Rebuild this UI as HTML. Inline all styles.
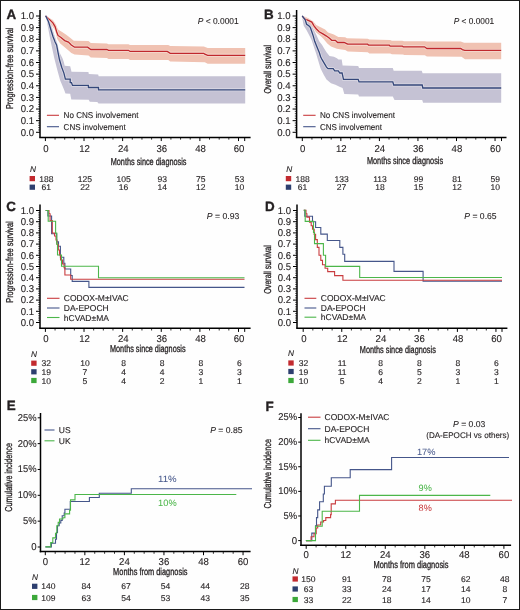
<!DOCTYPE html><html><head><meta charset="utf-8"><style>html,body{margin:0;padding:0;background:#fff;overflow:hidden;width:520px;height:610px}svg{display:block;will-change:transform;text-rendering:geometricPrecision}text{font-family:"Liberation Sans",sans-serif}</style></head><body>
<svg width="520" height="610" viewBox="0 0 520 610">
<rect x="0" y="0" width="520" height="610" fill="#fefefe"/>
<text transform="translate(6.40,19.00) scale(0.5000,0.5)" font-size="26.80" text-anchor="start" fill="#231f20" font-weight="bold" stroke="#231f20" stroke-width="0.70">A</text>
<line x1="40" y1="10" x2="40" y2="137.6" stroke="#000" stroke-width="1.5"/>
<line x1="36" y1="132.3" x2="40" y2="132.3" stroke="#000" stroke-width="1"/>
<text transform="translate(34.00,135.50) scale(0.4850,0.5)" font-size="19.80" text-anchor="end" fill="#231f20" stroke="#231f20" stroke-width="0.24" >0.0</text>
<line x1="36" y1="120.67" x2="40" y2="120.67" stroke="#000" stroke-width="1"/>
<text transform="translate(34.00,123.87) scale(0.4850,0.5)" font-size="19.80" text-anchor="end" fill="#231f20" stroke="#231f20" stroke-width="0.24" >0.1</text>
<line x1="36" y1="109.04" x2="40" y2="109.04" stroke="#000" stroke-width="1"/>
<text transform="translate(34.00,112.24) scale(0.4850,0.5)" font-size="19.80" text-anchor="end" fill="#231f20" stroke="#231f20" stroke-width="0.24" >0.2</text>
<line x1="36" y1="97.41" x2="40" y2="97.41" stroke="#000" stroke-width="1"/>
<text transform="translate(34.00,100.61) scale(0.4850,0.5)" font-size="19.80" text-anchor="end" fill="#231f20" stroke="#231f20" stroke-width="0.24" >0.3</text>
<line x1="36" y1="85.78" x2="40" y2="85.78" stroke="#000" stroke-width="1"/>
<text transform="translate(34.00,88.98) scale(0.4850,0.5)" font-size="19.80" text-anchor="end" fill="#231f20" stroke="#231f20" stroke-width="0.24" >0.4</text>
<line x1="36" y1="74.15" x2="40" y2="74.15" stroke="#000" stroke-width="1"/>
<text transform="translate(34.00,77.35) scale(0.4850,0.5)" font-size="19.80" text-anchor="end" fill="#231f20" stroke="#231f20" stroke-width="0.24" >0.5</text>
<line x1="36" y1="62.52" x2="40" y2="62.52" stroke="#000" stroke-width="1"/>
<text transform="translate(34.00,65.72) scale(0.4850,0.5)" font-size="19.80" text-anchor="end" fill="#231f20" stroke="#231f20" stroke-width="0.24" >0.6</text>
<line x1="36" y1="50.89" x2="40" y2="50.89" stroke="#000" stroke-width="1"/>
<text transform="translate(34.00,54.09) scale(0.4850,0.5)" font-size="19.80" text-anchor="end" fill="#231f20" stroke="#231f20" stroke-width="0.24" >0.7</text>
<line x1="36" y1="39.26" x2="40" y2="39.26" stroke="#000" stroke-width="1"/>
<text transform="translate(34.00,42.46) scale(0.4850,0.5)" font-size="19.80" text-anchor="end" fill="#231f20" stroke="#231f20" stroke-width="0.24" >0.8</text>
<line x1="36" y1="27.63" x2="40" y2="27.63" stroke="#000" stroke-width="1"/>
<text transform="translate(34.00,30.83) scale(0.4850,0.5)" font-size="19.80" text-anchor="end" fill="#231f20" stroke="#231f20" stroke-width="0.24" >0.9</text>
<line x1="36" y1="16.0" x2="40" y2="16.0" stroke="#000" stroke-width="1"/>
<text transform="translate(34.00,19.20) scale(0.4850,0.5)" font-size="19.80" text-anchor="end" fill="#231f20" stroke="#231f20" stroke-width="0.24" >1.0</text>
<line x1="38.2" y1="129.97" x2="40" y2="129.97" stroke="#000" stroke-width="0.7"/>
<line x1="38.2" y1="127.65" x2="40" y2="127.65" stroke="#000" stroke-width="0.7"/>
<line x1="38.2" y1="125.32" x2="40" y2="125.32" stroke="#000" stroke-width="0.7"/>
<line x1="38.2" y1="123.0" x2="40" y2="123.0" stroke="#000" stroke-width="0.7"/>
<line x1="38.2" y1="118.34" x2="40" y2="118.34" stroke="#000" stroke-width="0.7"/>
<line x1="38.2" y1="116.02" x2="40" y2="116.02" stroke="#000" stroke-width="0.7"/>
<line x1="38.2" y1="113.69" x2="40" y2="113.69" stroke="#000" stroke-width="0.7"/>
<line x1="38.2" y1="111.37" x2="40" y2="111.37" stroke="#000" stroke-width="0.7"/>
<line x1="38.2" y1="106.71" x2="40" y2="106.71" stroke="#000" stroke-width="0.7"/>
<line x1="38.2" y1="104.39" x2="40" y2="104.39" stroke="#000" stroke-width="0.7"/>
<line x1="38.2" y1="102.06" x2="40" y2="102.06" stroke="#000" stroke-width="0.7"/>
<line x1="38.2" y1="99.74" x2="40" y2="99.74" stroke="#000" stroke-width="0.7"/>
<line x1="38.2" y1="95.08" x2="40" y2="95.08" stroke="#000" stroke-width="0.7"/>
<line x1="38.2" y1="92.76" x2="40" y2="92.76" stroke="#000" stroke-width="0.7"/>
<line x1="38.2" y1="90.43" x2="40" y2="90.43" stroke="#000" stroke-width="0.7"/>
<line x1="38.2" y1="88.11" x2="40" y2="88.11" stroke="#000" stroke-width="0.7"/>
<line x1="38.2" y1="83.45" x2="40" y2="83.45" stroke="#000" stroke-width="0.7"/>
<line x1="38.2" y1="81.13" x2="40" y2="81.13" stroke="#000" stroke-width="0.7"/>
<line x1="38.2" y1="78.8" x2="40" y2="78.8" stroke="#000" stroke-width="0.7"/>
<line x1="38.2" y1="76.48" x2="40" y2="76.48" stroke="#000" stroke-width="0.7"/>
<line x1="38.2" y1="71.82" x2="40" y2="71.82" stroke="#000" stroke-width="0.7"/>
<line x1="38.2" y1="69.5" x2="40" y2="69.5" stroke="#000" stroke-width="0.7"/>
<line x1="38.2" y1="67.17" x2="40" y2="67.17" stroke="#000" stroke-width="0.7"/>
<line x1="38.2" y1="64.85" x2="40" y2="64.85" stroke="#000" stroke-width="0.7"/>
<line x1="38.2" y1="60.19" x2="40" y2="60.19" stroke="#000" stroke-width="0.7"/>
<line x1="38.2" y1="57.87" x2="40" y2="57.87" stroke="#000" stroke-width="0.7"/>
<line x1="38.2" y1="55.54" x2="40" y2="55.54" stroke="#000" stroke-width="0.7"/>
<line x1="38.2" y1="53.22" x2="40" y2="53.22" stroke="#000" stroke-width="0.7"/>
<line x1="38.2" y1="48.56" x2="40" y2="48.56" stroke="#000" stroke-width="0.7"/>
<line x1="38.2" y1="46.24" x2="40" y2="46.24" stroke="#000" stroke-width="0.7"/>
<line x1="38.2" y1="43.91" x2="40" y2="43.91" stroke="#000" stroke-width="0.7"/>
<line x1="38.2" y1="41.59" x2="40" y2="41.59" stroke="#000" stroke-width="0.7"/>
<line x1="38.2" y1="36.93" x2="40" y2="36.93" stroke="#000" stroke-width="0.7"/>
<line x1="38.2" y1="34.61" x2="40" y2="34.61" stroke="#000" stroke-width="0.7"/>
<line x1="38.2" y1="32.28" x2="40" y2="32.28" stroke="#000" stroke-width="0.7"/>
<line x1="38.2" y1="29.96" x2="40" y2="29.96" stroke="#000" stroke-width="0.7"/>
<line x1="38.2" y1="25.3" x2="40" y2="25.3" stroke="#000" stroke-width="0.7"/>
<line x1="38.2" y1="22.98" x2="40" y2="22.98" stroke="#000" stroke-width="0.7"/>
<line x1="38.2" y1="20.65" x2="40" y2="20.65" stroke="#000" stroke-width="0.7"/>
<line x1="38.2" y1="18.33" x2="40" y2="18.33" stroke="#000" stroke-width="0.7"/>
<line x1="39.25" y1="137.45" x2="250.6" y2="137.45" stroke="#000" stroke-width="1.5"/>
<line x1="45.40" y1="137.45" x2="45.40" y2="141.04999999999998" stroke="#000" stroke-width="1"/>
<text transform="translate(46.00,152.05) scale(0.4850,0.5)" font-size="19.80" text-anchor="middle" fill="#231f20" stroke="#231f20" stroke-width="0.24" >0</text>
<line x1="55.05" y1="137.45" x2="55.05" y2="139.64999999999998" stroke="#000" stroke-width="0.8"/>
<line x1="64.71" y1="137.45" x2="64.71" y2="139.64999999999998" stroke="#000" stroke-width="0.8"/>
<line x1="74.36" y1="137.45" x2="74.36" y2="139.64999999999998" stroke="#000" stroke-width="0.8"/>
<line x1="84.02" y1="137.45" x2="84.02" y2="141.04999999999998" stroke="#000" stroke-width="1"/>
<text transform="translate(84.62,152.05) scale(0.4850,0.5)" font-size="19.80" text-anchor="middle" fill="#231f20" stroke="#231f20" stroke-width="0.24" >12</text>
<line x1="93.67" y1="137.45" x2="93.67" y2="139.64999999999998" stroke="#000" stroke-width="0.8"/>
<line x1="103.33" y1="137.45" x2="103.33" y2="139.64999999999998" stroke="#000" stroke-width="0.8"/>
<line x1="112.98" y1="137.45" x2="112.98" y2="139.64999999999998" stroke="#000" stroke-width="0.8"/>
<line x1="122.64" y1="137.45" x2="122.64" y2="141.04999999999998" stroke="#000" stroke-width="1"/>
<text transform="translate(123.24,152.05) scale(0.4850,0.5)" font-size="19.80" text-anchor="middle" fill="#231f20" stroke="#231f20" stroke-width="0.24" >24</text>
<line x1="132.29" y1="137.45" x2="132.29" y2="139.64999999999998" stroke="#000" stroke-width="0.8"/>
<line x1="141.95" y1="137.45" x2="141.95" y2="139.64999999999998" stroke="#000" stroke-width="0.8"/>
<line x1="151.60" y1="137.45" x2="151.60" y2="139.64999999999998" stroke="#000" stroke-width="0.8"/>
<line x1="161.26" y1="137.45" x2="161.26" y2="141.04999999999998" stroke="#000" stroke-width="1"/>
<text transform="translate(161.86,152.05) scale(0.4850,0.5)" font-size="19.80" text-anchor="middle" fill="#231f20" stroke="#231f20" stroke-width="0.24" >36</text>
<line x1="170.91" y1="137.45" x2="170.91" y2="139.64999999999998" stroke="#000" stroke-width="0.8"/>
<line x1="180.57" y1="137.45" x2="180.57" y2="139.64999999999998" stroke="#000" stroke-width="0.8"/>
<line x1="190.22" y1="137.45" x2="190.22" y2="139.64999999999998" stroke="#000" stroke-width="0.8"/>
<line x1="199.88" y1="137.45" x2="199.88" y2="141.04999999999998" stroke="#000" stroke-width="1"/>
<text transform="translate(200.48,152.05) scale(0.4850,0.5)" font-size="19.80" text-anchor="middle" fill="#231f20" stroke="#231f20" stroke-width="0.24" >48</text>
<line x1="209.53" y1="137.45" x2="209.53" y2="139.64999999999998" stroke="#000" stroke-width="0.8"/>
<line x1="219.19" y1="137.45" x2="219.19" y2="139.64999999999998" stroke="#000" stroke-width="0.8"/>
<line x1="228.84" y1="137.45" x2="228.84" y2="139.64999999999998" stroke="#000" stroke-width="0.8"/>
<line x1="238.50" y1="137.45" x2="238.50" y2="141.04999999999998" stroke="#000" stroke-width="1"/>
<text transform="translate(239.10,152.05) scale(0.4850,0.5)" font-size="19.80" text-anchor="middle" fill="#231f20" stroke="#231f20" stroke-width="0.24" >60</text>
<line x1="244.7" y1="137.45" x2="244.7" y2="141.04999999999998" stroke="#000" stroke-width="1"/>
<text transform="translate(12.5,68.3) rotate(-90) scale(0.5)" x="0" y="0" font-size="20.00" text-anchor="middle" fill="#231f20" stroke="#231f20" stroke-width="0.64" textLength="163.00" lengthAdjust="spacingAndGlyphs">Progression-free survival</text>
<text transform="translate(148.6,164.5) scale(0.5)" font-size="20.20" text-anchor="middle" fill="#231f20" stroke="#231f20" stroke-width="0.64" textLength="151.60" lengthAdjust="spacingAndGlyphs">Months since diagnosis</text>
<path d="M45.8,15.6L47.7,17L52.9,19.9L55.8,24.3L58,29.5L61.7,31.7L66.2,34.7L69.8,37.6L73.8,40.8L88.5,41.1L90.8,43.1L106.9,43.4L108.5,44.2L128.5,44.2L130,44.9L168.3,45L170.2,46L203.8,46.5L207.7,48.1L245.2,48.1L245.2,63.8L207.7,63.8L204.8,62.3L170.2,61.5L168.3,60L130,60L128.5,58.9L108.5,58.9L106.9,58L90.8,57.4L88.5,55.4L74.6,54.6L71.3,53.1L69.1,50.9L64.7,47.2L60.2,43.5L57.3,39.1L55.1,30.2L49.9,22.9L46.2,18.4L45.8,16.6Z" fill="#f0c2b2"/>
<path d="M45.8,15.6L47,16.2L50.6,22.9L54.3,34.7L57.3,43.5L59.5,52.4L62.5,58.3L63.8,61.9L64.7,65.7L70.2,66.2L71.5,71.7L88.4,72.1L88.8,74L98.2,74.4L98.6,76.3L245.2,76.3L245.2,103.5L98.5,103.5L97.3,102.1L89.8,101.7L88.7,99.8L71.3,99.4L70.2,93.7L65.5,93.4L63.9,89.3L60.2,80.5L57.3,70.1L54.3,58.3L52.1,48L49.9,37.6L47.7,25.8L46.2,17L45.8,16.4Z" fill="#c5c2d4"/>
<path d="M45.6,16L49.9,19.9L52.9,22.9L55.1,26.6L56.6,31.7L58,35.4L61,37.6L64.7,40.6L68.4,42.1L71.3,45L74.6,47.2H87.7L90.8,49.5H106.9L108.5,50.3H128.5L130,51.4H167.3L170.2,53.3H203.8L204.8,54.2L207.7,55.3H245.2" fill="none" stroke="#ffffff" stroke-opacity="0.4" stroke-width="2.9000000000000004" stroke-linejoin="miter"/>
<path d="M45.6,16L49.9,19.9L52.9,22.9L55.1,26.6L56.6,31.7L58,35.4L61,37.6L64.7,40.6L68.4,42.1L71.3,45L74.6,47.2H87.7L90.8,49.5H106.9L108.5,50.3H128.5L130,51.4H167.3L170.2,53.3H203.8L204.8,54.2L207.7,55.3H245.2" fill="none" stroke="#c0282d" stroke-width="1.3" stroke-linejoin="miter"/>
<path d="M45.6,15.8L48.4,21.4L50.6,28.8L52.9,36.2L55.1,42.1L56.6,45L58,52.4L59.5,59.8L61.7,67.2L63.9,73.1L65.4,79.2H70.2V82.7H71.5L72.5,85.4H88.4V87.5H98.5V89.8H245.2" fill="none" stroke="#ffffff" stroke-opacity="0.4" stroke-width="2.9000000000000004" stroke-linejoin="miter"/>
<path d="M45.6,15.8L48.4,21.4L50.6,28.8L52.9,36.2L55.1,42.1L56.6,45L58,52.4L59.5,59.8L61.7,67.2L63.9,73.1L65.4,79.2H70.2V82.7H71.5L72.5,85.4H88.4V87.5H98.5V89.8H245.2" fill="none" stroke="#34477a" stroke-width="1.3" stroke-linejoin="miter"/>
<line x1="46.9" y1="115.3" x2="59" y2="115.3" stroke="#c93c3f" stroke-width="1.1"/>
<text transform="translate(63.60,118.30) scale(0.5000,0.5)" font-size="17.00" text-anchor="start" fill="#231f20" textLength="150.00" lengthAdjust="spacingAndGlyphs" stroke="#231f20" stroke-width="0.24" >No CNS involvement</text>
<line x1="46.9" y1="126.7" x2="59" y2="126.7" stroke="#45568a" stroke-width="1.1"/>
<text transform="translate(63.60,129.70) scale(0.5000,0.5)" font-size="17.00" text-anchor="start" fill="#231f20" textLength="124.20" lengthAdjust="spacingAndGlyphs" stroke="#231f20" stroke-width="0.24" >CNS involvement</text>
<text transform="translate(197.7,24.2) scale(0.5)" font-size="17.20" fill="#231f20" stroke="#231f20" stroke-width="0.20" textLength="82.00" lengthAdjust="spacingAndGlyphs"><tspan font-style="italic">P</tspan> &lt; 0.0001</text>
<text transform="translate(30.00,172.00) scale(0.5000,0.5)" font-size="16.60" text-anchor="start" fill="#231f20" font-style="italic" stroke="#231f20" stroke-width="0.24" >N</text>
<rect x="29.6" y="176.0" width="5.4" height="5.2" fill="#c22a2f"/>
<text transform="translate(46.30,181.70) scale(0.5150,0.5)" font-size="16.60" text-anchor="middle" fill="#231f20" stroke="#231f20" stroke-width="0.24" >188</text>
<text transform="translate(84.92,181.70) scale(0.5150,0.5)" font-size="16.60" text-anchor="middle" fill="#231f20" stroke="#231f20" stroke-width="0.24" >125</text>
<text transform="translate(123.54,181.70) scale(0.5150,0.5)" font-size="16.60" text-anchor="middle" fill="#231f20" stroke="#231f20" stroke-width="0.24" >105</text>
<text transform="translate(162.16,181.70) scale(0.5150,0.5)" font-size="16.60" text-anchor="middle" fill="#231f20" stroke="#231f20" stroke-width="0.24" >93</text>
<text transform="translate(200.78,181.70) scale(0.5150,0.5)" font-size="16.60" text-anchor="middle" fill="#231f20" stroke="#231f20" stroke-width="0.24" >75</text>
<text transform="translate(239.40,181.70) scale(0.5150,0.5)" font-size="16.60" text-anchor="middle" fill="#231f20" stroke="#231f20" stroke-width="0.24" >53</text>
<rect x="29.6" y="184.6" width="5.4" height="5.2" fill="#2d3f6f"/>
<text transform="translate(46.30,190.30) scale(0.5150,0.5)" font-size="16.60" text-anchor="middle" fill="#231f20" stroke="#231f20" stroke-width="0.24" >61</text>
<text transform="translate(84.92,190.30) scale(0.5150,0.5)" font-size="16.60" text-anchor="middle" fill="#231f20" stroke="#231f20" stroke-width="0.24" >22</text>
<text transform="translate(123.54,190.30) scale(0.5150,0.5)" font-size="16.60" text-anchor="middle" fill="#231f20" stroke="#231f20" stroke-width="0.24" >16</text>
<text transform="translate(162.16,190.30) scale(0.5150,0.5)" font-size="16.60" text-anchor="middle" fill="#231f20" stroke="#231f20" stroke-width="0.24" >14</text>
<text transform="translate(200.78,190.30) scale(0.5150,0.5)" font-size="16.60" text-anchor="middle" fill="#231f20" stroke="#231f20" stroke-width="0.24" >12</text>
<text transform="translate(239.40,190.30) scale(0.5150,0.5)" font-size="16.60" text-anchor="middle" fill="#231f20" stroke="#231f20" stroke-width="0.24" >10</text>
<text transform="translate(264.00,19.00) scale(0.5000,0.5)" font-size="26.80" text-anchor="start" fill="#231f20" font-weight="bold" stroke="#231f20" stroke-width="0.70">B</text>
<line x1="296.6" y1="10" x2="296.6" y2="137.6" stroke="#000" stroke-width="1.5"/>
<line x1="292.6" y1="132.3" x2="296.6" y2="132.3" stroke="#000" stroke-width="1"/>
<text transform="translate(290.60,135.50) scale(0.4850,0.5)" font-size="19.80" text-anchor="end" fill="#231f20" stroke="#231f20" stroke-width="0.24" >0.0</text>
<line x1="292.6" y1="120.67" x2="296.6" y2="120.67" stroke="#000" stroke-width="1"/>
<text transform="translate(290.60,123.87) scale(0.4850,0.5)" font-size="19.80" text-anchor="end" fill="#231f20" stroke="#231f20" stroke-width="0.24" >0.1</text>
<line x1="292.6" y1="109.04" x2="296.6" y2="109.04" stroke="#000" stroke-width="1"/>
<text transform="translate(290.60,112.24) scale(0.4850,0.5)" font-size="19.80" text-anchor="end" fill="#231f20" stroke="#231f20" stroke-width="0.24" >0.2</text>
<line x1="292.6" y1="97.41" x2="296.6" y2="97.41" stroke="#000" stroke-width="1"/>
<text transform="translate(290.60,100.61) scale(0.4850,0.5)" font-size="19.80" text-anchor="end" fill="#231f20" stroke="#231f20" stroke-width="0.24" >0.3</text>
<line x1="292.6" y1="85.78" x2="296.6" y2="85.78" stroke="#000" stroke-width="1"/>
<text transform="translate(290.60,88.98) scale(0.4850,0.5)" font-size="19.80" text-anchor="end" fill="#231f20" stroke="#231f20" stroke-width="0.24" >0.4</text>
<line x1="292.6" y1="74.15" x2="296.6" y2="74.15" stroke="#000" stroke-width="1"/>
<text transform="translate(290.60,77.35) scale(0.4850,0.5)" font-size="19.80" text-anchor="end" fill="#231f20" stroke="#231f20" stroke-width="0.24" >0.5</text>
<line x1="292.6" y1="62.52" x2="296.6" y2="62.52" stroke="#000" stroke-width="1"/>
<text transform="translate(290.60,65.72) scale(0.4850,0.5)" font-size="19.80" text-anchor="end" fill="#231f20" stroke="#231f20" stroke-width="0.24" >0.6</text>
<line x1="292.6" y1="50.89" x2="296.6" y2="50.89" stroke="#000" stroke-width="1"/>
<text transform="translate(290.60,54.09) scale(0.4850,0.5)" font-size="19.80" text-anchor="end" fill="#231f20" stroke="#231f20" stroke-width="0.24" >0.7</text>
<line x1="292.6" y1="39.26" x2="296.6" y2="39.26" stroke="#000" stroke-width="1"/>
<text transform="translate(290.60,42.46) scale(0.4850,0.5)" font-size="19.80" text-anchor="end" fill="#231f20" stroke="#231f20" stroke-width="0.24" >0.8</text>
<line x1="292.6" y1="27.63" x2="296.6" y2="27.63" stroke="#000" stroke-width="1"/>
<text transform="translate(290.60,30.83) scale(0.4850,0.5)" font-size="19.80" text-anchor="end" fill="#231f20" stroke="#231f20" stroke-width="0.24" >0.9</text>
<line x1="292.6" y1="16.0" x2="296.6" y2="16.0" stroke="#000" stroke-width="1"/>
<text transform="translate(290.60,19.20) scale(0.4850,0.5)" font-size="19.80" text-anchor="end" fill="#231f20" stroke="#231f20" stroke-width="0.24" >1.0</text>
<line x1="294.8" y1="129.97" x2="296.6" y2="129.97" stroke="#000" stroke-width="0.7"/>
<line x1="294.8" y1="127.65" x2="296.6" y2="127.65" stroke="#000" stroke-width="0.7"/>
<line x1="294.8" y1="125.32" x2="296.6" y2="125.32" stroke="#000" stroke-width="0.7"/>
<line x1="294.8" y1="123.0" x2="296.6" y2="123.0" stroke="#000" stroke-width="0.7"/>
<line x1="294.8" y1="118.34" x2="296.6" y2="118.34" stroke="#000" stroke-width="0.7"/>
<line x1="294.8" y1="116.02" x2="296.6" y2="116.02" stroke="#000" stroke-width="0.7"/>
<line x1="294.8" y1="113.69" x2="296.6" y2="113.69" stroke="#000" stroke-width="0.7"/>
<line x1="294.8" y1="111.37" x2="296.6" y2="111.37" stroke="#000" stroke-width="0.7"/>
<line x1="294.8" y1="106.71" x2="296.6" y2="106.71" stroke="#000" stroke-width="0.7"/>
<line x1="294.8" y1="104.39" x2="296.6" y2="104.39" stroke="#000" stroke-width="0.7"/>
<line x1="294.8" y1="102.06" x2="296.6" y2="102.06" stroke="#000" stroke-width="0.7"/>
<line x1="294.8" y1="99.74" x2="296.6" y2="99.74" stroke="#000" stroke-width="0.7"/>
<line x1="294.8" y1="95.08" x2="296.6" y2="95.08" stroke="#000" stroke-width="0.7"/>
<line x1="294.8" y1="92.76" x2="296.6" y2="92.76" stroke="#000" stroke-width="0.7"/>
<line x1="294.8" y1="90.43" x2="296.6" y2="90.43" stroke="#000" stroke-width="0.7"/>
<line x1="294.8" y1="88.11" x2="296.6" y2="88.11" stroke="#000" stroke-width="0.7"/>
<line x1="294.8" y1="83.45" x2="296.6" y2="83.45" stroke="#000" stroke-width="0.7"/>
<line x1="294.8" y1="81.13" x2="296.6" y2="81.13" stroke="#000" stroke-width="0.7"/>
<line x1="294.8" y1="78.8" x2="296.6" y2="78.8" stroke="#000" stroke-width="0.7"/>
<line x1="294.8" y1="76.48" x2="296.6" y2="76.48" stroke="#000" stroke-width="0.7"/>
<line x1="294.8" y1="71.82" x2="296.6" y2="71.82" stroke="#000" stroke-width="0.7"/>
<line x1="294.8" y1="69.5" x2="296.6" y2="69.5" stroke="#000" stroke-width="0.7"/>
<line x1="294.8" y1="67.17" x2="296.6" y2="67.17" stroke="#000" stroke-width="0.7"/>
<line x1="294.8" y1="64.85" x2="296.6" y2="64.85" stroke="#000" stroke-width="0.7"/>
<line x1="294.8" y1="60.19" x2="296.6" y2="60.19" stroke="#000" stroke-width="0.7"/>
<line x1="294.8" y1="57.87" x2="296.6" y2="57.87" stroke="#000" stroke-width="0.7"/>
<line x1="294.8" y1="55.54" x2="296.6" y2="55.54" stroke="#000" stroke-width="0.7"/>
<line x1="294.8" y1="53.22" x2="296.6" y2="53.22" stroke="#000" stroke-width="0.7"/>
<line x1="294.8" y1="48.56" x2="296.6" y2="48.56" stroke="#000" stroke-width="0.7"/>
<line x1="294.8" y1="46.24" x2="296.6" y2="46.24" stroke="#000" stroke-width="0.7"/>
<line x1="294.8" y1="43.91" x2="296.6" y2="43.91" stroke="#000" stroke-width="0.7"/>
<line x1="294.8" y1="41.59" x2="296.6" y2="41.59" stroke="#000" stroke-width="0.7"/>
<line x1="294.8" y1="36.93" x2="296.6" y2="36.93" stroke="#000" stroke-width="0.7"/>
<line x1="294.8" y1="34.61" x2="296.6" y2="34.61" stroke="#000" stroke-width="0.7"/>
<line x1="294.8" y1="32.28" x2="296.6" y2="32.28" stroke="#000" stroke-width="0.7"/>
<line x1="294.8" y1="29.96" x2="296.6" y2="29.96" stroke="#000" stroke-width="0.7"/>
<line x1="294.8" y1="25.3" x2="296.6" y2="25.3" stroke="#000" stroke-width="0.7"/>
<line x1="294.8" y1="22.98" x2="296.6" y2="22.98" stroke="#000" stroke-width="0.7"/>
<line x1="294.8" y1="20.65" x2="296.6" y2="20.65" stroke="#000" stroke-width="0.7"/>
<line x1="294.8" y1="18.33" x2="296.6" y2="18.33" stroke="#000" stroke-width="0.7"/>
<line x1="295.85" y1="137.45" x2="506.5" y2="137.45" stroke="#000" stroke-width="1.5"/>
<line x1="302.30" y1="137.45" x2="302.30" y2="141.04999999999998" stroke="#000" stroke-width="1"/>
<text transform="translate(302.70,152.05) scale(0.4850,0.5)" font-size="19.80" text-anchor="middle" fill="#231f20" stroke="#231f20" stroke-width="0.24" >0</text>
<line x1="311.94" y1="137.45" x2="311.94" y2="139.64999999999998" stroke="#000" stroke-width="0.8"/>
<line x1="321.57" y1="137.45" x2="321.57" y2="139.64999999999998" stroke="#000" stroke-width="0.8"/>
<line x1="331.21" y1="137.45" x2="331.21" y2="139.64999999999998" stroke="#000" stroke-width="0.8"/>
<line x1="340.85" y1="137.45" x2="340.85" y2="141.04999999999998" stroke="#000" stroke-width="1"/>
<text transform="translate(341.25,152.05) scale(0.4850,0.5)" font-size="19.80" text-anchor="middle" fill="#231f20" stroke="#231f20" stroke-width="0.24" >12</text>
<line x1="350.49" y1="137.45" x2="350.49" y2="139.64999999999998" stroke="#000" stroke-width="0.8"/>
<line x1="360.12" y1="137.45" x2="360.12" y2="139.64999999999998" stroke="#000" stroke-width="0.8"/>
<line x1="369.76" y1="137.45" x2="369.76" y2="139.64999999999998" stroke="#000" stroke-width="0.8"/>
<line x1="379.40" y1="137.45" x2="379.40" y2="141.04999999999998" stroke="#000" stroke-width="1"/>
<text transform="translate(379.80,152.05) scale(0.4850,0.5)" font-size="19.80" text-anchor="middle" fill="#231f20" stroke="#231f20" stroke-width="0.24" >24</text>
<line x1="389.04" y1="137.45" x2="389.04" y2="139.64999999999998" stroke="#000" stroke-width="0.8"/>
<line x1="398.68" y1="137.45" x2="398.68" y2="139.64999999999998" stroke="#000" stroke-width="0.8"/>
<line x1="408.31" y1="137.45" x2="408.31" y2="139.64999999999998" stroke="#000" stroke-width="0.8"/>
<line x1="417.95" y1="137.45" x2="417.95" y2="141.04999999999998" stroke="#000" stroke-width="1"/>
<text transform="translate(418.35,152.05) scale(0.4850,0.5)" font-size="19.80" text-anchor="middle" fill="#231f20" stroke="#231f20" stroke-width="0.24" >36</text>
<line x1="427.59" y1="137.45" x2="427.59" y2="139.64999999999998" stroke="#000" stroke-width="0.8"/>
<line x1="437.23" y1="137.45" x2="437.23" y2="139.64999999999998" stroke="#000" stroke-width="0.8"/>
<line x1="446.86" y1="137.45" x2="446.86" y2="139.64999999999998" stroke="#000" stroke-width="0.8"/>
<line x1="456.50" y1="137.45" x2="456.50" y2="141.04999999999998" stroke="#000" stroke-width="1"/>
<text transform="translate(456.90,152.05) scale(0.4850,0.5)" font-size="19.80" text-anchor="middle" fill="#231f20" stroke="#231f20" stroke-width="0.24" >48</text>
<line x1="466.14" y1="137.45" x2="466.14" y2="139.64999999999998" stroke="#000" stroke-width="0.8"/>
<line x1="475.77" y1="137.45" x2="475.77" y2="139.64999999999998" stroke="#000" stroke-width="0.8"/>
<line x1="485.41" y1="137.45" x2="485.41" y2="139.64999999999998" stroke="#000" stroke-width="0.8"/>
<line x1="495.05" y1="137.45" x2="495.05" y2="141.04999999999998" stroke="#000" stroke-width="1"/>
<text transform="translate(495.45,152.05) scale(0.4850,0.5)" font-size="19.80" text-anchor="middle" fill="#231f20" stroke="#231f20" stroke-width="0.24" >60</text>
<line x1="501.5" y1="137.45" x2="501.5" y2="141.04999999999998" stroke="#000" stroke-width="1"/>
<text transform="translate(270.6,69.2) rotate(-90) scale(0.5)" x="0" y="0" font-size="20.00" text-anchor="middle" fill="#231f20" stroke="#231f20" stroke-width="0.64" textLength="96.80" lengthAdjust="spacingAndGlyphs">Overall survival</text>
<text transform="translate(405,164.0) scale(0.5)" font-size="20.20" text-anchor="middle" fill="#231f20" stroke="#231f20" stroke-width="0.64" textLength="152.40" lengthAdjust="spacingAndGlyphs">Months since diagnosis</text>
<path d="M302.4,15.6L303,15.8L308.8,18.4L313.3,21.4L316.2,25.1L320.6,27.3L325.1,29.5L328,32.4L333.9,34.6L338.3,36.9L340,36.9L345.2,37.3L346.9,38.3L367.7,38.7L369.4,39.5L390.2,39.9L391.9,40.7L402.3,40.7L404,41.2L424.8,41.2L426.9,41.4L460.7,41.4L464.1,42.8L501.2,42.8L501.2,59.2L465,59.2L461.5,56.8L426.9,56.6L424.8,55.3L404,55.1L403.2,54.4L391.9,54.2L390.2,53.4L369.4,53.4L367.7,52.2L347.8,51.6L345.2,49.9L340,49.2L336.9,48.7L331,46.4L327.3,43.5L323.6,39.1L320.6,36.1L316.2,32.4L313.3,28L308.8,24.3L303,18.4L302.4,16.6Z" fill="#f0c2b2"/>
<path d="M302.4,15.6L303,15.8L306.6,20.6L310.3,24.3L313.3,28.7L316.2,34.6L319.2,41.3L322.1,45L324.3,48.7L326.5,52.3L329.5,56L333.9,56.8L336.9,58.2L338.5,59.4L341.7,59.4L342.6,65.5L358.2,66L359,68.1L392.8,68.1L393.7,70.7L421.7,70.7L422.6,73.3L501.2,73.3L501.2,102.7L423.1,102.7L422.2,100.1L394.5,100.1L392.8,96.6L359,96.6L358.2,94.4L344.3,94L342.6,88L340,87.1L335.4,84.8L331,83.3L326.5,79.6L323.6,74.5L320.6,68.6L318.4,61.2L316.2,53.8L314,47.2L311.8,40.5L309.6,36.1L306.6,30.2L303.7,25.8L302.2,17.7L302.4,16.4Z" fill="#c5c2d4"/>
<path d="M302.2,16.2L305.2,19.2L308.8,20.6L311.8,22.1L314,25.8L316.2,28.7L319.2,31.7L322.9,33.9L326.5,36.1L329.5,38.3L331.7,40.3H335.4L337.6,42.5H344.2L347.2,43.9L347.8,44.2H367.7L368.6,45.2H389.3L390.2,46.1H402.3L403.2,46.8H424.5L426.9,48.5H460.7L462.4,49.6L464.7,50.4H501.2" fill="none" stroke="#ffffff" stroke-opacity="0.4" stroke-width="2.9000000000000004" stroke-linejoin="miter"/>
<path d="M302.2,16.2L305.2,19.2L308.8,20.6L311.8,22.1L314,25.8L316.2,28.7L319.2,31.7L322.9,33.9L326.5,36.1L329.5,38.3L331.7,40.3H335.4L337.6,42.5H344.2L347.2,43.9L347.8,44.2H367.7L368.6,45.2H389.3L390.2,46.1H402.3L403.2,46.8H424.5L426.9,48.5H460.7L462.4,49.6L464.7,50.4H501.2" fill="none" stroke="#c0282d" stroke-width="1.3" stroke-linejoin="miter"/>
<path d="M302.2,15.8L305.2,19.9L306.6,24.3L308.8,25.8L310.3,27.3L311.8,31.7L313.3,36.1L314.7,41.3L316.2,45L317.7,48.7L319.2,52.3L320.6,56.8L322.1,59.7L324.3,63.4L326.5,67.1L328,68.6H333.2L334.7,70.8H338.3L339.8,73H342.1L343.5,79.3H358.2L359,81.9H392.8L393.7,85H422.2L422.8,88H501.2" fill="none" stroke="#ffffff" stroke-opacity="0.4" stroke-width="2.9000000000000004" stroke-linejoin="miter"/>
<path d="M302.2,15.8L305.2,19.9L306.6,24.3L308.8,25.8L310.3,27.3L311.8,31.7L313.3,36.1L314.7,41.3L316.2,45L317.7,48.7L319.2,52.3L320.6,56.8L322.1,59.7L324.3,63.4L326.5,67.1L328,68.6H333.2L334.7,70.8H338.3L339.8,73H342.1L343.5,79.3H358.2L359,81.9H392.8L393.7,85H422.2L422.8,88H501.2" fill="none" stroke="#34477a" stroke-width="1.3" stroke-linejoin="miter"/>
<line x1="303.2" y1="115.3" x2="315.6" y2="115.3" stroke="#c93c3f" stroke-width="1.1"/>
<text transform="translate(319.90,118.30) scale(0.5000,0.5)" font-size="17.00" text-anchor="start" fill="#231f20" textLength="150.00" lengthAdjust="spacingAndGlyphs" stroke="#231f20" stroke-width="0.24" >No CNS involvement</text>
<line x1="303.2" y1="126.7" x2="315.6" y2="126.7" stroke="#45568a" stroke-width="1.1"/>
<text transform="translate(319.90,129.70) scale(0.5000,0.5)" font-size="17.00" text-anchor="start" fill="#231f20" textLength="124.20" lengthAdjust="spacingAndGlyphs" stroke="#231f20" stroke-width="0.24" >CNS involvement</text>
<text transform="translate(453.7,24.4) scale(0.5)" font-size="17.20" fill="#231f20" stroke="#231f20" stroke-width="0.20" textLength="81.00" lengthAdjust="spacingAndGlyphs"><tspan font-style="italic">P</tspan> &lt; 0.0001</text>
<text transform="translate(286.20,172.00) scale(0.5000,0.5)" font-size="16.60" text-anchor="start" fill="#231f20" font-style="italic" stroke="#231f20" stroke-width="0.24" >N</text>
<rect x="285.8" y="176.0" width="5.4" height="5.2" fill="#c22a2f"/>
<text transform="translate(302.60,181.70) scale(0.5150,0.5)" font-size="16.60" text-anchor="middle" fill="#231f20" stroke="#231f20" stroke-width="0.24" >188</text>
<text transform="translate(341.60,181.70) scale(0.5150,0.5)" font-size="16.60" text-anchor="middle" fill="#231f20" stroke="#231f20" stroke-width="0.24" >133</text>
<text transform="translate(380.00,181.70) scale(0.5150,0.5)" font-size="16.60" text-anchor="middle" fill="#231f20" stroke="#231f20" stroke-width="0.24" >113</text>
<text transform="translate(418.50,181.70) scale(0.5150,0.5)" font-size="16.60" text-anchor="middle" fill="#231f20" stroke="#231f20" stroke-width="0.24" >99</text>
<text transform="translate(457.00,181.70) scale(0.5150,0.5)" font-size="16.60" text-anchor="middle" fill="#231f20" stroke="#231f20" stroke-width="0.24" >81</text>
<text transform="translate(495.30,181.70) scale(0.5150,0.5)" font-size="16.60" text-anchor="middle" fill="#231f20" stroke="#231f20" stroke-width="0.24" >59</text>
<rect x="285.8" y="184.6" width="5.4" height="5.2" fill="#2d3f6f"/>
<text transform="translate(302.60,190.30) scale(0.5150,0.5)" font-size="16.60" text-anchor="middle" fill="#231f20" stroke="#231f20" stroke-width="0.24" >61</text>
<text transform="translate(341.60,190.30) scale(0.5150,0.5)" font-size="16.60" text-anchor="middle" fill="#231f20" stroke="#231f20" stroke-width="0.24" >27</text>
<text transform="translate(380.00,190.30) scale(0.5150,0.5)" font-size="16.60" text-anchor="middle" fill="#231f20" stroke="#231f20" stroke-width="0.24" >18</text>
<text transform="translate(418.50,190.30) scale(0.5150,0.5)" font-size="16.60" text-anchor="middle" fill="#231f20" stroke="#231f20" stroke-width="0.24" >15</text>
<text transform="translate(457.00,190.30) scale(0.5150,0.5)" font-size="16.60" text-anchor="middle" fill="#231f20" stroke="#231f20" stroke-width="0.24" >12</text>
<text transform="translate(495.30,190.30) scale(0.5150,0.5)" font-size="16.60" text-anchor="middle" fill="#231f20" stroke="#231f20" stroke-width="0.24" >10</text>
<text transform="translate(6.30,211.20) scale(0.5000,0.5)" font-size="26.80" text-anchor="start" fill="#231f20" font-weight="bold" stroke="#231f20" stroke-width="0.70">C</text>
<line x1="40" y1="204.5" x2="40" y2="328.6" stroke="#000" stroke-width="1.5"/>
<line x1="36" y1="322.5" x2="40" y2="322.5" stroke="#000" stroke-width="1"/>
<text transform="translate(34.00,325.70) scale(0.4850,0.5)" font-size="19.80" text-anchor="end" fill="#231f20" stroke="#231f20" stroke-width="0.24" >0.0</text>
<line x1="36" y1="311.3" x2="40" y2="311.3" stroke="#000" stroke-width="1"/>
<text transform="translate(34.00,314.50) scale(0.4850,0.5)" font-size="19.80" text-anchor="end" fill="#231f20" stroke="#231f20" stroke-width="0.24" >0.1</text>
<line x1="36" y1="300.1" x2="40" y2="300.1" stroke="#000" stroke-width="1"/>
<text transform="translate(34.00,303.30) scale(0.4850,0.5)" font-size="19.80" text-anchor="end" fill="#231f20" stroke="#231f20" stroke-width="0.24" >0.2</text>
<line x1="36" y1="288.9" x2="40" y2="288.9" stroke="#000" stroke-width="1"/>
<text transform="translate(34.00,292.10) scale(0.4850,0.5)" font-size="19.80" text-anchor="end" fill="#231f20" stroke="#231f20" stroke-width="0.24" >0.3</text>
<line x1="36" y1="277.7" x2="40" y2="277.7" stroke="#000" stroke-width="1"/>
<text transform="translate(34.00,280.90) scale(0.4850,0.5)" font-size="19.80" text-anchor="end" fill="#231f20" stroke="#231f20" stroke-width="0.24" >0.4</text>
<line x1="36" y1="266.5" x2="40" y2="266.5" stroke="#000" stroke-width="1"/>
<text transform="translate(34.00,269.70) scale(0.4850,0.5)" font-size="19.80" text-anchor="end" fill="#231f20" stroke="#231f20" stroke-width="0.24" >0.5</text>
<line x1="36" y1="255.3" x2="40" y2="255.3" stroke="#000" stroke-width="1"/>
<text transform="translate(34.00,258.50) scale(0.4850,0.5)" font-size="19.80" text-anchor="end" fill="#231f20" stroke="#231f20" stroke-width="0.24" >0.6</text>
<line x1="36" y1="244.1" x2="40" y2="244.1" stroke="#000" stroke-width="1"/>
<text transform="translate(34.00,247.30) scale(0.4850,0.5)" font-size="19.80" text-anchor="end" fill="#231f20" stroke="#231f20" stroke-width="0.24" >0.7</text>
<line x1="36" y1="232.9" x2="40" y2="232.9" stroke="#000" stroke-width="1"/>
<text transform="translate(34.00,236.10) scale(0.4850,0.5)" font-size="19.80" text-anchor="end" fill="#231f20" stroke="#231f20" stroke-width="0.24" >0.8</text>
<line x1="36" y1="221.7" x2="40" y2="221.7" stroke="#000" stroke-width="1"/>
<text transform="translate(34.00,224.90) scale(0.4850,0.5)" font-size="19.80" text-anchor="end" fill="#231f20" stroke="#231f20" stroke-width="0.24" >0.9</text>
<line x1="36" y1="210.5" x2="40" y2="210.5" stroke="#000" stroke-width="1"/>
<text transform="translate(34.00,213.70) scale(0.4850,0.5)" font-size="19.80" text-anchor="end" fill="#231f20" stroke="#231f20" stroke-width="0.24" >1.0</text>
<line x1="38.2" y1="320.26" x2="40" y2="320.26" stroke="#000" stroke-width="0.7"/>
<line x1="38.2" y1="318.02" x2="40" y2="318.02" stroke="#000" stroke-width="0.7"/>
<line x1="38.2" y1="315.78" x2="40" y2="315.78" stroke="#000" stroke-width="0.7"/>
<line x1="38.2" y1="313.54" x2="40" y2="313.54" stroke="#000" stroke-width="0.7"/>
<line x1="38.2" y1="309.06" x2="40" y2="309.06" stroke="#000" stroke-width="0.7"/>
<line x1="38.2" y1="306.82" x2="40" y2="306.82" stroke="#000" stroke-width="0.7"/>
<line x1="38.2" y1="304.58" x2="40" y2="304.58" stroke="#000" stroke-width="0.7"/>
<line x1="38.2" y1="302.34" x2="40" y2="302.34" stroke="#000" stroke-width="0.7"/>
<line x1="38.2" y1="297.86" x2="40" y2="297.86" stroke="#000" stroke-width="0.7"/>
<line x1="38.2" y1="295.62" x2="40" y2="295.62" stroke="#000" stroke-width="0.7"/>
<line x1="38.2" y1="293.38" x2="40" y2="293.38" stroke="#000" stroke-width="0.7"/>
<line x1="38.2" y1="291.14" x2="40" y2="291.14" stroke="#000" stroke-width="0.7"/>
<line x1="38.2" y1="286.66" x2="40" y2="286.66" stroke="#000" stroke-width="0.7"/>
<line x1="38.2" y1="284.42" x2="40" y2="284.42" stroke="#000" stroke-width="0.7"/>
<line x1="38.2" y1="282.18" x2="40" y2="282.18" stroke="#000" stroke-width="0.7"/>
<line x1="38.2" y1="279.94" x2="40" y2="279.94" stroke="#000" stroke-width="0.7"/>
<line x1="38.2" y1="275.46" x2="40" y2="275.46" stroke="#000" stroke-width="0.7"/>
<line x1="38.2" y1="273.22" x2="40" y2="273.22" stroke="#000" stroke-width="0.7"/>
<line x1="38.2" y1="270.98" x2="40" y2="270.98" stroke="#000" stroke-width="0.7"/>
<line x1="38.2" y1="268.74" x2="40" y2="268.74" stroke="#000" stroke-width="0.7"/>
<line x1="38.2" y1="264.26" x2="40" y2="264.26" stroke="#000" stroke-width="0.7"/>
<line x1="38.2" y1="262.02" x2="40" y2="262.02" stroke="#000" stroke-width="0.7"/>
<line x1="38.2" y1="259.78" x2="40" y2="259.78" stroke="#000" stroke-width="0.7"/>
<line x1="38.2" y1="257.54" x2="40" y2="257.54" stroke="#000" stroke-width="0.7"/>
<line x1="38.2" y1="253.06" x2="40" y2="253.06" stroke="#000" stroke-width="0.7"/>
<line x1="38.2" y1="250.82" x2="40" y2="250.82" stroke="#000" stroke-width="0.7"/>
<line x1="38.2" y1="248.58" x2="40" y2="248.58" stroke="#000" stroke-width="0.7"/>
<line x1="38.2" y1="246.34" x2="40" y2="246.34" stroke="#000" stroke-width="0.7"/>
<line x1="38.2" y1="241.86" x2="40" y2="241.86" stroke="#000" stroke-width="0.7"/>
<line x1="38.2" y1="239.62" x2="40" y2="239.62" stroke="#000" stroke-width="0.7"/>
<line x1="38.2" y1="237.38" x2="40" y2="237.38" stroke="#000" stroke-width="0.7"/>
<line x1="38.2" y1="235.14" x2="40" y2="235.14" stroke="#000" stroke-width="0.7"/>
<line x1="38.2" y1="230.66" x2="40" y2="230.66" stroke="#000" stroke-width="0.7"/>
<line x1="38.2" y1="228.42" x2="40" y2="228.42" stroke="#000" stroke-width="0.7"/>
<line x1="38.2" y1="226.18" x2="40" y2="226.18" stroke="#000" stroke-width="0.7"/>
<line x1="38.2" y1="223.94" x2="40" y2="223.94" stroke="#000" stroke-width="0.7"/>
<line x1="38.2" y1="219.46" x2="40" y2="219.46" stroke="#000" stroke-width="0.7"/>
<line x1="38.2" y1="217.22" x2="40" y2="217.22" stroke="#000" stroke-width="0.7"/>
<line x1="38.2" y1="214.98" x2="40" y2="214.98" stroke="#000" stroke-width="0.7"/>
<line x1="38.2" y1="212.74" x2="40" y2="212.74" stroke="#000" stroke-width="0.7"/>
<line x1="39.25" y1="328.3" x2="250.6" y2="328.3" stroke="#000" stroke-width="1.5"/>
<line x1="45.40" y1="328.3" x2="45.40" y2="331.90000000000003" stroke="#000" stroke-width="1"/>
<text transform="translate(46.00,342.10) scale(0.4850,0.5)" font-size="19.80" text-anchor="middle" fill="#231f20" stroke="#231f20" stroke-width="0.24" >0</text>
<line x1="55.05" y1="328.3" x2="55.05" y2="330.5" stroke="#000" stroke-width="0.8"/>
<line x1="64.71" y1="328.3" x2="64.71" y2="330.5" stroke="#000" stroke-width="0.8"/>
<line x1="74.36" y1="328.3" x2="74.36" y2="330.5" stroke="#000" stroke-width="0.8"/>
<line x1="84.02" y1="328.3" x2="84.02" y2="331.90000000000003" stroke="#000" stroke-width="1"/>
<text transform="translate(84.62,342.10) scale(0.4850,0.5)" font-size="19.80" text-anchor="middle" fill="#231f20" stroke="#231f20" stroke-width="0.24" >12</text>
<line x1="93.67" y1="328.3" x2="93.67" y2="330.5" stroke="#000" stroke-width="0.8"/>
<line x1="103.33" y1="328.3" x2="103.33" y2="330.5" stroke="#000" stroke-width="0.8"/>
<line x1="112.98" y1="328.3" x2="112.98" y2="330.5" stroke="#000" stroke-width="0.8"/>
<line x1="122.64" y1="328.3" x2="122.64" y2="331.90000000000003" stroke="#000" stroke-width="1"/>
<text transform="translate(123.24,342.10) scale(0.4850,0.5)" font-size="19.80" text-anchor="middle" fill="#231f20" stroke="#231f20" stroke-width="0.24" >24</text>
<line x1="132.29" y1="328.3" x2="132.29" y2="330.5" stroke="#000" stroke-width="0.8"/>
<line x1="141.95" y1="328.3" x2="141.95" y2="330.5" stroke="#000" stroke-width="0.8"/>
<line x1="151.60" y1="328.3" x2="151.60" y2="330.5" stroke="#000" stroke-width="0.8"/>
<line x1="161.26" y1="328.3" x2="161.26" y2="331.90000000000003" stroke="#000" stroke-width="1"/>
<text transform="translate(161.86,342.10) scale(0.4850,0.5)" font-size="19.80" text-anchor="middle" fill="#231f20" stroke="#231f20" stroke-width="0.24" >36</text>
<line x1="170.91" y1="328.3" x2="170.91" y2="330.5" stroke="#000" stroke-width="0.8"/>
<line x1="180.57" y1="328.3" x2="180.57" y2="330.5" stroke="#000" stroke-width="0.8"/>
<line x1="190.22" y1="328.3" x2="190.22" y2="330.5" stroke="#000" stroke-width="0.8"/>
<line x1="199.88" y1="328.3" x2="199.88" y2="331.90000000000003" stroke="#000" stroke-width="1"/>
<text transform="translate(200.48,342.10) scale(0.4850,0.5)" font-size="19.80" text-anchor="middle" fill="#231f20" stroke="#231f20" stroke-width="0.24" >48</text>
<line x1="209.53" y1="328.3" x2="209.53" y2="330.5" stroke="#000" stroke-width="0.8"/>
<line x1="219.19" y1="328.3" x2="219.19" y2="330.5" stroke="#000" stroke-width="0.8"/>
<line x1="228.84" y1="328.3" x2="228.84" y2="330.5" stroke="#000" stroke-width="0.8"/>
<line x1="238.50" y1="328.3" x2="238.50" y2="331.90000000000003" stroke="#000" stroke-width="1"/>
<text transform="translate(239.10,342.10) scale(0.4850,0.5)" font-size="19.80" text-anchor="middle" fill="#231f20" stroke="#231f20" stroke-width="0.24" >60</text>
<line x1="244.7" y1="328.3" x2="244.7" y2="331.90000000000003" stroke="#000" stroke-width="1"/>
<text transform="translate(12.5,262) rotate(-90) scale(0.5)" x="0" y="0" font-size="20.00" text-anchor="middle" fill="#231f20" stroke="#231f20" stroke-width="0.64" textLength="163.00" lengthAdjust="spacingAndGlyphs">Progression-free survival</text>
<text transform="translate(147.8,352.3) scale(0.5)" font-size="20.20" text-anchor="middle" fill="#231f20" stroke="#231f20" stroke-width="0.64" textLength="151.20" lengthAdjust="spacingAndGlyphs">Months since diagnosis</text>
<path d="M45.7,210.5H47.9V216H51.6V233.7H56.7V241.9H58.5V246.3H60.4V257.3H63.8V263.2H64.9V269H70.7V275.5H72.2V281.4H88.9V287.4H244.5" fill="none" stroke="#45568a" stroke-width="1.1" stroke-linejoin="miter"/>
<path d="M45.7,210.5H49V213.8H50.1V220.5H52.3V233H54.5V236H56V240H57V244.5H58.3V250H59.5V255H60.5V260H62.5V264H64.1V267.7H64.9V275H70.7V279.3H244.5" fill="none" stroke="#c93c3f" stroke-width="1.1" stroke-linejoin="miter"/>
<path d="M45.7,210.5H48.2V221.2H55.6V233H56.7V244H57.5V255H61.5V266.2H98.5V277.8H244.5" fill="none" stroke="#4cb64a" stroke-width="1.1" stroke-linejoin="miter"/>
<line x1="47" y1="298.3" x2="59.5" y2="298.3" stroke="#c93c3f" stroke-width="1.1"/>
<text transform="translate(63.80,301.30) scale(0.5000,0.5)" font-size="17.00" text-anchor="start" fill="#231f20" stroke="#231f20" stroke-width="0.24" >CODOX-M±IVAC</text>
<line x1="47" y1="308" x2="59.5" y2="308" stroke="#45568a" stroke-width="1.1"/>
<text transform="translate(63.80,311.00) scale(0.5000,0.5)" font-size="17.00" text-anchor="start" fill="#231f20" stroke="#231f20" stroke-width="0.24" >DA-EPOCH</text>
<line x1="47" y1="317.5" x2="59.5" y2="317.5" stroke="#4cb64a" stroke-width="1.1"/>
<text transform="translate(63.80,320.50) scale(0.5000,0.5)" font-size="17.00" text-anchor="start" fill="#231f20" stroke="#231f20" stroke-width="0.24" >hCVAD±MA</text>
<text transform="translate(206.8,219.3) scale(0.5)" font-size="17.20" fill="#231f20" stroke="#231f20" stroke-width="0.20" textLength="65.00" lengthAdjust="spacingAndGlyphs"><tspan font-style="italic">P</tspan> = 0.93</text>
<text transform="translate(31.00,356.80) scale(0.5000,0.5)" font-size="16.60" text-anchor="start" fill="#231f20" font-style="italic" stroke="#231f20" stroke-width="0.24" >N</text>
<rect x="31.2" y="360.59999999999997" width="5.4" height="5.2" fill="#c22a2f"/>
<text transform="translate(46.30,366.30) scale(0.5150,0.5)" font-size="16.60" text-anchor="middle" fill="#231f20" stroke="#231f20" stroke-width="0.24" >32</text>
<text transform="translate(84.92,366.30) scale(0.5150,0.5)" font-size="16.60" text-anchor="middle" fill="#231f20" stroke="#231f20" stroke-width="0.24" >10</text>
<text transform="translate(123.54,366.30) scale(0.5150,0.5)" font-size="16.60" text-anchor="middle" fill="#231f20" stroke="#231f20" stroke-width="0.24" >8</text>
<text transform="translate(162.16,366.30) scale(0.5150,0.5)" font-size="16.60" text-anchor="middle" fill="#231f20" stroke="#231f20" stroke-width="0.24" >8</text>
<text transform="translate(200.78,366.30) scale(0.5150,0.5)" font-size="16.60" text-anchor="middle" fill="#231f20" stroke="#231f20" stroke-width="0.24" >8</text>
<text transform="translate(239.40,366.30) scale(0.5150,0.5)" font-size="16.60" text-anchor="middle" fill="#231f20" stroke="#231f20" stroke-width="0.24" >6</text>
<rect x="31.2" y="369.2" width="5.4" height="5.2" fill="#2d3f6f"/>
<text transform="translate(46.30,374.90) scale(0.5150,0.5)" font-size="16.60" text-anchor="middle" fill="#231f20" stroke="#231f20" stroke-width="0.24" >19</text>
<text transform="translate(84.92,374.90) scale(0.5150,0.5)" font-size="16.60" text-anchor="middle" fill="#231f20" stroke="#231f20" stroke-width="0.24" >7</text>
<text transform="translate(123.54,374.90) scale(0.5150,0.5)" font-size="16.60" text-anchor="middle" fill="#231f20" stroke="#231f20" stroke-width="0.24" >4</text>
<text transform="translate(162.16,374.90) scale(0.5150,0.5)" font-size="16.60" text-anchor="middle" fill="#231f20" stroke="#231f20" stroke-width="0.24" >4</text>
<text transform="translate(200.78,374.90) scale(0.5150,0.5)" font-size="16.60" text-anchor="middle" fill="#231f20" stroke="#231f20" stroke-width="0.24" >3</text>
<text transform="translate(239.40,374.90) scale(0.5150,0.5)" font-size="16.60" text-anchor="middle" fill="#231f20" stroke="#231f20" stroke-width="0.24" >3</text>
<rect x="31.2" y="377.9" width="5.4" height="5.2" fill="#3ca83a"/>
<text transform="translate(46.30,383.60) scale(0.5150,0.5)" font-size="16.60" text-anchor="middle" fill="#231f20" stroke="#231f20" stroke-width="0.24" >10</text>
<text transform="translate(84.92,383.60) scale(0.5150,0.5)" font-size="16.60" text-anchor="middle" fill="#231f20" stroke="#231f20" stroke-width="0.24" >5</text>
<text transform="translate(123.54,383.60) scale(0.5150,0.5)" font-size="16.60" text-anchor="middle" fill="#231f20" stroke="#231f20" stroke-width="0.24" >4</text>
<text transform="translate(162.16,383.60) scale(0.5150,0.5)" font-size="16.60" text-anchor="middle" fill="#231f20" stroke="#231f20" stroke-width="0.24" >2</text>
<text transform="translate(200.78,383.60) scale(0.5150,0.5)" font-size="16.60" text-anchor="middle" fill="#231f20" stroke="#231f20" stroke-width="0.24" >1</text>
<text transform="translate(239.40,383.60) scale(0.5150,0.5)" font-size="16.60" text-anchor="middle" fill="#231f20" stroke="#231f20" stroke-width="0.24" >1</text>
<text transform="translate(265.10,211.40) scale(0.5000,0.5)" font-size="26.80" text-anchor="start" fill="#231f20" font-weight="bold" stroke="#231f20" stroke-width="0.70">D</text>
<line x1="297" y1="204.5" x2="297" y2="328.6" stroke="#000" stroke-width="1.5"/>
<line x1="293" y1="322.5" x2="297" y2="322.5" stroke="#000" stroke-width="1"/>
<text transform="translate(291.00,325.70) scale(0.4850,0.5)" font-size="19.80" text-anchor="end" fill="#231f20" stroke="#231f20" stroke-width="0.24" >0.0</text>
<line x1="293" y1="311.3" x2="297" y2="311.3" stroke="#000" stroke-width="1"/>
<text transform="translate(291.00,314.50) scale(0.4850,0.5)" font-size="19.80" text-anchor="end" fill="#231f20" stroke="#231f20" stroke-width="0.24" >0.1</text>
<line x1="293" y1="300.1" x2="297" y2="300.1" stroke="#000" stroke-width="1"/>
<text transform="translate(291.00,303.30) scale(0.4850,0.5)" font-size="19.80" text-anchor="end" fill="#231f20" stroke="#231f20" stroke-width="0.24" >0.2</text>
<line x1="293" y1="288.9" x2="297" y2="288.9" stroke="#000" stroke-width="1"/>
<text transform="translate(291.00,292.10) scale(0.4850,0.5)" font-size="19.80" text-anchor="end" fill="#231f20" stroke="#231f20" stroke-width="0.24" >0.3</text>
<line x1="293" y1="277.7" x2="297" y2="277.7" stroke="#000" stroke-width="1"/>
<text transform="translate(291.00,280.90) scale(0.4850,0.5)" font-size="19.80" text-anchor="end" fill="#231f20" stroke="#231f20" stroke-width="0.24" >0.4</text>
<line x1="293" y1="266.5" x2="297" y2="266.5" stroke="#000" stroke-width="1"/>
<text transform="translate(291.00,269.70) scale(0.4850,0.5)" font-size="19.80" text-anchor="end" fill="#231f20" stroke="#231f20" stroke-width="0.24" >0.5</text>
<line x1="293" y1="255.3" x2="297" y2="255.3" stroke="#000" stroke-width="1"/>
<text transform="translate(291.00,258.50) scale(0.4850,0.5)" font-size="19.80" text-anchor="end" fill="#231f20" stroke="#231f20" stroke-width="0.24" >0.6</text>
<line x1="293" y1="244.1" x2="297" y2="244.1" stroke="#000" stroke-width="1"/>
<text transform="translate(291.00,247.30) scale(0.4850,0.5)" font-size="19.80" text-anchor="end" fill="#231f20" stroke="#231f20" stroke-width="0.24" >0.7</text>
<line x1="293" y1="232.9" x2="297" y2="232.9" stroke="#000" stroke-width="1"/>
<text transform="translate(291.00,236.10) scale(0.4850,0.5)" font-size="19.80" text-anchor="end" fill="#231f20" stroke="#231f20" stroke-width="0.24" >0.8</text>
<line x1="293" y1="221.7" x2="297" y2="221.7" stroke="#000" stroke-width="1"/>
<text transform="translate(291.00,224.90) scale(0.4850,0.5)" font-size="19.80" text-anchor="end" fill="#231f20" stroke="#231f20" stroke-width="0.24" >0.9</text>
<line x1="293" y1="210.5" x2="297" y2="210.5" stroke="#000" stroke-width="1"/>
<text transform="translate(291.00,213.70) scale(0.4850,0.5)" font-size="19.80" text-anchor="end" fill="#231f20" stroke="#231f20" stroke-width="0.24" >1.0</text>
<line x1="295.2" y1="320.26" x2="297" y2="320.26" stroke="#000" stroke-width="0.7"/>
<line x1="295.2" y1="318.02" x2="297" y2="318.02" stroke="#000" stroke-width="0.7"/>
<line x1="295.2" y1="315.78" x2="297" y2="315.78" stroke="#000" stroke-width="0.7"/>
<line x1="295.2" y1="313.54" x2="297" y2="313.54" stroke="#000" stroke-width="0.7"/>
<line x1="295.2" y1="309.06" x2="297" y2="309.06" stroke="#000" stroke-width="0.7"/>
<line x1="295.2" y1="306.82" x2="297" y2="306.82" stroke="#000" stroke-width="0.7"/>
<line x1="295.2" y1="304.58" x2="297" y2="304.58" stroke="#000" stroke-width="0.7"/>
<line x1="295.2" y1="302.34" x2="297" y2="302.34" stroke="#000" stroke-width="0.7"/>
<line x1="295.2" y1="297.86" x2="297" y2="297.86" stroke="#000" stroke-width="0.7"/>
<line x1="295.2" y1="295.62" x2="297" y2="295.62" stroke="#000" stroke-width="0.7"/>
<line x1="295.2" y1="293.38" x2="297" y2="293.38" stroke="#000" stroke-width="0.7"/>
<line x1="295.2" y1="291.14" x2="297" y2="291.14" stroke="#000" stroke-width="0.7"/>
<line x1="295.2" y1="286.66" x2="297" y2="286.66" stroke="#000" stroke-width="0.7"/>
<line x1="295.2" y1="284.42" x2="297" y2="284.42" stroke="#000" stroke-width="0.7"/>
<line x1="295.2" y1="282.18" x2="297" y2="282.18" stroke="#000" stroke-width="0.7"/>
<line x1="295.2" y1="279.94" x2="297" y2="279.94" stroke="#000" stroke-width="0.7"/>
<line x1="295.2" y1="275.46" x2="297" y2="275.46" stroke="#000" stroke-width="0.7"/>
<line x1="295.2" y1="273.22" x2="297" y2="273.22" stroke="#000" stroke-width="0.7"/>
<line x1="295.2" y1="270.98" x2="297" y2="270.98" stroke="#000" stroke-width="0.7"/>
<line x1="295.2" y1="268.74" x2="297" y2="268.74" stroke="#000" stroke-width="0.7"/>
<line x1="295.2" y1="264.26" x2="297" y2="264.26" stroke="#000" stroke-width="0.7"/>
<line x1="295.2" y1="262.02" x2="297" y2="262.02" stroke="#000" stroke-width="0.7"/>
<line x1="295.2" y1="259.78" x2="297" y2="259.78" stroke="#000" stroke-width="0.7"/>
<line x1="295.2" y1="257.54" x2="297" y2="257.54" stroke="#000" stroke-width="0.7"/>
<line x1="295.2" y1="253.06" x2="297" y2="253.06" stroke="#000" stroke-width="0.7"/>
<line x1="295.2" y1="250.82" x2="297" y2="250.82" stroke="#000" stroke-width="0.7"/>
<line x1="295.2" y1="248.58" x2="297" y2="248.58" stroke="#000" stroke-width="0.7"/>
<line x1="295.2" y1="246.34" x2="297" y2="246.34" stroke="#000" stroke-width="0.7"/>
<line x1="295.2" y1="241.86" x2="297" y2="241.86" stroke="#000" stroke-width="0.7"/>
<line x1="295.2" y1="239.62" x2="297" y2="239.62" stroke="#000" stroke-width="0.7"/>
<line x1="295.2" y1="237.38" x2="297" y2="237.38" stroke="#000" stroke-width="0.7"/>
<line x1="295.2" y1="235.14" x2="297" y2="235.14" stroke="#000" stroke-width="0.7"/>
<line x1="295.2" y1="230.66" x2="297" y2="230.66" stroke="#000" stroke-width="0.7"/>
<line x1="295.2" y1="228.42" x2="297" y2="228.42" stroke="#000" stroke-width="0.7"/>
<line x1="295.2" y1="226.18" x2="297" y2="226.18" stroke="#000" stroke-width="0.7"/>
<line x1="295.2" y1="223.94" x2="297" y2="223.94" stroke="#000" stroke-width="0.7"/>
<line x1="295.2" y1="219.46" x2="297" y2="219.46" stroke="#000" stroke-width="0.7"/>
<line x1="295.2" y1="217.22" x2="297" y2="217.22" stroke="#000" stroke-width="0.7"/>
<line x1="295.2" y1="214.98" x2="297" y2="214.98" stroke="#000" stroke-width="0.7"/>
<line x1="295.2" y1="212.74" x2="297" y2="212.74" stroke="#000" stroke-width="0.7"/>
<line x1="296.25" y1="328.3" x2="507.4" y2="328.3" stroke="#000" stroke-width="1.5"/>
<line x1="303.20" y1="328.3" x2="303.20" y2="331.90000000000003" stroke="#000" stroke-width="1"/>
<text transform="translate(303.80,342.10) scale(0.4850,0.5)" font-size="19.80" text-anchor="middle" fill="#231f20" stroke="#231f20" stroke-width="0.24" >0</text>
<line x1="312.84" y1="328.3" x2="312.84" y2="330.5" stroke="#000" stroke-width="0.8"/>
<line x1="322.47" y1="328.3" x2="322.47" y2="330.5" stroke="#000" stroke-width="0.8"/>
<line x1="332.11" y1="328.3" x2="332.11" y2="330.5" stroke="#000" stroke-width="0.8"/>
<line x1="341.75" y1="328.3" x2="341.75" y2="331.90000000000003" stroke="#000" stroke-width="1"/>
<text transform="translate(342.35,342.10) scale(0.4850,0.5)" font-size="19.80" text-anchor="middle" fill="#231f20" stroke="#231f20" stroke-width="0.24" >12</text>
<line x1="351.39" y1="328.3" x2="351.39" y2="330.5" stroke="#000" stroke-width="0.8"/>
<line x1="361.02" y1="328.3" x2="361.02" y2="330.5" stroke="#000" stroke-width="0.8"/>
<line x1="370.66" y1="328.3" x2="370.66" y2="330.5" stroke="#000" stroke-width="0.8"/>
<line x1="380.30" y1="328.3" x2="380.30" y2="331.90000000000003" stroke="#000" stroke-width="1"/>
<text transform="translate(380.90,342.10) scale(0.4850,0.5)" font-size="19.80" text-anchor="middle" fill="#231f20" stroke="#231f20" stroke-width="0.24" >24</text>
<line x1="389.94" y1="328.3" x2="389.94" y2="330.5" stroke="#000" stroke-width="0.8"/>
<line x1="399.57" y1="328.3" x2="399.57" y2="330.5" stroke="#000" stroke-width="0.8"/>
<line x1="409.21" y1="328.3" x2="409.21" y2="330.5" stroke="#000" stroke-width="0.8"/>
<line x1="418.85" y1="328.3" x2="418.85" y2="331.90000000000003" stroke="#000" stroke-width="1"/>
<text transform="translate(419.45,342.10) scale(0.4850,0.5)" font-size="19.80" text-anchor="middle" fill="#231f20" stroke="#231f20" stroke-width="0.24" >36</text>
<line x1="428.49" y1="328.3" x2="428.49" y2="330.5" stroke="#000" stroke-width="0.8"/>
<line x1="438.12" y1="328.3" x2="438.12" y2="330.5" stroke="#000" stroke-width="0.8"/>
<line x1="447.76" y1="328.3" x2="447.76" y2="330.5" stroke="#000" stroke-width="0.8"/>
<line x1="457.40" y1="328.3" x2="457.40" y2="331.90000000000003" stroke="#000" stroke-width="1"/>
<text transform="translate(458.00,342.10) scale(0.4850,0.5)" font-size="19.80" text-anchor="middle" fill="#231f20" stroke="#231f20" stroke-width="0.24" >48</text>
<line x1="467.04" y1="328.3" x2="467.04" y2="330.5" stroke="#000" stroke-width="0.8"/>
<line x1="476.67" y1="328.3" x2="476.67" y2="330.5" stroke="#000" stroke-width="0.8"/>
<line x1="486.31" y1="328.3" x2="486.31" y2="330.5" stroke="#000" stroke-width="0.8"/>
<line x1="495.95" y1="328.3" x2="495.95" y2="331.90000000000003" stroke="#000" stroke-width="1"/>
<text transform="translate(496.55,342.10) scale(0.4850,0.5)" font-size="19.80" text-anchor="middle" fill="#231f20" stroke="#231f20" stroke-width="0.24" >60</text>
<line x1="502" y1="328.3" x2="502" y2="331.90000000000003" stroke="#000" stroke-width="1"/>
<text transform="translate(270.6,269.4) rotate(-90) scale(0.5)" x="0" y="0" font-size="20.00" text-anchor="middle" fill="#231f20" stroke="#231f20" stroke-width="0.64" textLength="97.00" lengthAdjust="spacingAndGlyphs">Overall survival</text>
<text transform="translate(397.8,353.3) scale(0.5)" font-size="20.20" text-anchor="middle" fill="#231f20" stroke="#231f20" stroke-width="0.64" textLength="152.00" lengthAdjust="spacingAndGlyphs">Months since diagnosis</text>
<path d="M303.8,210.2H304.8V216.2H312.5V221.8H315.6V227.5H320.8V234.1H327.3V240.5H339.8V247.4H342.9V254.3H344.7V261.4H394V271.4H423.1V281.3H502" fill="none" stroke="#45568a" stroke-width="1.1" stroke-linejoin="miter"/>
<path d="M303.8,210.2H306V213.7H306.9V217.1H309.5V222.3H311.2V225.8H312.5V229.2H314.2V234.4H315.6V239.6H317.3V247.4H319V255.2H320.8V260.4H322.5V264.7H325.1V268.2H327.7V271.6H334.6V275.6H342.9V280.2H502" fill="none" stroke="#c93c3f" stroke-width="1.1" stroke-linejoin="miter"/>
<path d="M303.8,210.2H305.2V221.4H313.5V232.5H314.5V243.6H323.4V255.2H325.6V266.4H359.7V277.5H502" fill="none" stroke="#4cb64a" stroke-width="1.1" stroke-linejoin="miter"/>
<line x1="304.5" y1="298.3" x2="316.3" y2="298.3" stroke="#c93c3f" stroke-width="1.1"/>
<text transform="translate(320.80,301.30) scale(0.5000,0.5)" font-size="17.00" text-anchor="start" fill="#231f20" stroke="#231f20" stroke-width="0.24" >CODOX-M±IVAC</text>
<line x1="304.5" y1="308" x2="316.3" y2="308" stroke="#45568a" stroke-width="1.1"/>
<text transform="translate(320.80,311.00) scale(0.5000,0.5)" font-size="17.00" text-anchor="start" fill="#231f20" stroke="#231f20" stroke-width="0.24" >DA-EPOCH</text>
<line x1="304.5" y1="317.2" x2="316.3" y2="317.2" stroke="#4cb64a" stroke-width="1.1"/>
<text transform="translate(320.80,320.20) scale(0.5000,0.5)" font-size="17.00" text-anchor="start" fill="#231f20" stroke="#231f20" stroke-width="0.24" >hCVAD±MA</text>
<text transform="translate(464.3,219.3) scale(0.5)" font-size="17.20" fill="#231f20" stroke="#231f20" stroke-width="0.20" textLength="64.60" lengthAdjust="spacingAndGlyphs"><tspan font-style="italic">P</tspan> = 0.65</text>
<text transform="translate(288.00,356.20) scale(0.5000,0.5)" font-size="16.60" text-anchor="start" fill="#231f20" font-style="italic" stroke="#231f20" stroke-width="0.24" >N</text>
<rect x="288.3" y="360.4" width="5.4" height="5.2" fill="#c22a2f"/>
<text transform="translate(303.60,366.10) scale(0.5150,0.5)" font-size="16.60" text-anchor="middle" fill="#231f20" stroke="#231f20" stroke-width="0.24" >32</text>
<text transform="translate(342.15,366.10) scale(0.5150,0.5)" font-size="16.60" text-anchor="middle" fill="#231f20" stroke="#231f20" stroke-width="0.24" >11</text>
<text transform="translate(380.70,366.10) scale(0.5150,0.5)" font-size="16.60" text-anchor="middle" fill="#231f20" stroke="#231f20" stroke-width="0.24" >8</text>
<text transform="translate(419.25,366.10) scale(0.5150,0.5)" font-size="16.60" text-anchor="middle" fill="#231f20" stroke="#231f20" stroke-width="0.24" >8</text>
<text transform="translate(457.80,366.10) scale(0.5150,0.5)" font-size="16.60" text-anchor="middle" fill="#231f20" stroke="#231f20" stroke-width="0.24" >8</text>
<text transform="translate(496.35,366.10) scale(0.5150,0.5)" font-size="16.60" text-anchor="middle" fill="#231f20" stroke="#231f20" stroke-width="0.24" >6</text>
<rect x="288.3" y="368.9" width="5.4" height="5.2" fill="#2d3f6f"/>
<text transform="translate(303.60,374.60) scale(0.5150,0.5)" font-size="16.60" text-anchor="middle" fill="#231f20" stroke="#231f20" stroke-width="0.24" >19</text>
<text transform="translate(342.15,374.60) scale(0.5150,0.5)" font-size="16.60" text-anchor="middle" fill="#231f20" stroke="#231f20" stroke-width="0.24" >11</text>
<text transform="translate(380.70,374.60) scale(0.5150,0.5)" font-size="16.60" text-anchor="middle" fill="#231f20" stroke="#231f20" stroke-width="0.24" >6</text>
<text transform="translate(419.25,374.60) scale(0.5150,0.5)" font-size="16.60" text-anchor="middle" fill="#231f20" stroke="#231f20" stroke-width="0.24" >5</text>
<text transform="translate(457.80,374.60) scale(0.5150,0.5)" font-size="16.60" text-anchor="middle" fill="#231f20" stroke="#231f20" stroke-width="0.24" >3</text>
<text transform="translate(496.35,374.60) scale(0.5150,0.5)" font-size="16.60" text-anchor="middle" fill="#231f20" stroke="#231f20" stroke-width="0.24" >3</text>
<rect x="288.3" y="377.9" width="5.4" height="5.2" fill="#3ca83a"/>
<text transform="translate(303.60,383.60) scale(0.5150,0.5)" font-size="16.60" text-anchor="middle" fill="#231f20" stroke="#231f20" stroke-width="0.24" >10</text>
<text transform="translate(342.15,383.60) scale(0.5150,0.5)" font-size="16.60" text-anchor="middle" fill="#231f20" stroke="#231f20" stroke-width="0.24" >5</text>
<text transform="translate(380.70,383.60) scale(0.5150,0.5)" font-size="16.60" text-anchor="middle" fill="#231f20" stroke="#231f20" stroke-width="0.24" >4</text>
<text transform="translate(419.25,383.60) scale(0.5150,0.5)" font-size="16.60" text-anchor="middle" fill="#231f20" stroke="#231f20" stroke-width="0.24" >2</text>
<text transform="translate(457.80,383.60) scale(0.5150,0.5)" font-size="16.60" text-anchor="middle" fill="#231f20" stroke="#231f20" stroke-width="0.24" >1</text>
<text transform="translate(496.35,383.60) scale(0.5150,0.5)" font-size="16.60" text-anchor="middle" fill="#231f20" stroke="#231f20" stroke-width="0.24" >1</text>
<text transform="translate(6.80,410.00) scale(0.5000,0.5)" font-size="26.80" text-anchor="start" fill="#231f20" font-weight="bold" stroke="#231f20" stroke-width="0.70">E</text>
<line x1="40.5" y1="413" x2="40.5" y2="552.3" stroke="#000" stroke-width="1.5"/>
<line x1="37.7" y1="547.0" x2="40.5" y2="547.0" stroke="#000" stroke-width="1"/>
<text transform="translate(36.50,550.20) scale(0.4850,0.5)" font-size="19.80" text-anchor="end" fill="#231f20" stroke="#231f20" stroke-width="0.24" >0</text>
<line x1="37.7" y1="521.16" x2="40.5" y2="521.16" stroke="#000" stroke-width="1"/>
<text transform="translate(22.90,524.06) scale(0.5000,0.5)" font-size="19.80" text-anchor="start" fill="#231f20" textLength="27.20" lengthAdjust="spacingAndGlyphs" stroke="#231f20" stroke-width="0.24" >5%</text>
<line x1="37.7" y1="495.32" x2="40.5" y2="495.32" stroke="#000" stroke-width="1"/>
<text transform="translate(17.70,498.22) scale(0.5000,0.5)" font-size="19.80" text-anchor="start" fill="#231f20" textLength="37.60" lengthAdjust="spacingAndGlyphs" stroke="#231f20" stroke-width="0.24" >10%</text>
<line x1="37.7" y1="469.48" x2="40.5" y2="469.48" stroke="#000" stroke-width="1"/>
<text transform="translate(17.70,472.38) scale(0.5000,0.5)" font-size="19.80" text-anchor="start" fill="#231f20" textLength="37.60" lengthAdjust="spacingAndGlyphs" stroke="#231f20" stroke-width="0.24" >15%</text>
<line x1="37.7" y1="443.64" x2="40.5" y2="443.64" stroke="#000" stroke-width="1"/>
<text transform="translate(17.70,446.54) scale(0.5000,0.5)" font-size="19.80" text-anchor="start" fill="#231f20" textLength="37.60" lengthAdjust="spacingAndGlyphs" stroke="#231f20" stroke-width="0.24" >20%</text>
<line x1="37.7" y1="417.8" x2="40.5" y2="417.8" stroke="#000" stroke-width="1"/>
<text transform="translate(17.70,420.70) scale(0.5000,0.5)" font-size="19.80" text-anchor="start" fill="#231f20" textLength="37.60" lengthAdjust="spacingAndGlyphs" stroke="#231f20" stroke-width="0.24" >25%</text>
<line x1="39.75" y1="551.6" x2="250.6" y2="551.6" stroke="#000" stroke-width="1.5"/>
<line x1="45.30" y1="551.6" x2="45.30" y2="555.2" stroke="#000" stroke-width="1"/>
<text transform="translate(45.30,564.50) scale(0.4850,0.5)" font-size="19.80" text-anchor="middle" fill="#231f20" stroke="#231f20" stroke-width="0.24" >0</text>
<line x1="55.19" y1="551.6" x2="55.19" y2="553.8000000000001" stroke="#000" stroke-width="0.8"/>
<line x1="65.07" y1="551.6" x2="65.07" y2="553.8000000000001" stroke="#000" stroke-width="0.8"/>
<line x1="74.96" y1="551.6" x2="74.96" y2="553.8000000000001" stroke="#000" stroke-width="0.8"/>
<line x1="84.85" y1="551.6" x2="84.85" y2="555.2" stroke="#000" stroke-width="1"/>
<text transform="translate(84.85,564.50) scale(0.4850,0.5)" font-size="19.80" text-anchor="middle" fill="#231f20" stroke="#231f20" stroke-width="0.24" >12</text>
<line x1="94.74" y1="551.6" x2="94.74" y2="553.8000000000001" stroke="#000" stroke-width="0.8"/>
<line x1="104.62" y1="551.6" x2="104.62" y2="553.8000000000001" stroke="#000" stroke-width="0.8"/>
<line x1="114.51" y1="551.6" x2="114.51" y2="553.8000000000001" stroke="#000" stroke-width="0.8"/>
<line x1="124.40" y1="551.6" x2="124.40" y2="555.2" stroke="#000" stroke-width="1"/>
<text transform="translate(124.40,564.50) scale(0.4850,0.5)" font-size="19.80" text-anchor="middle" fill="#231f20" stroke="#231f20" stroke-width="0.24" >24</text>
<line x1="134.29" y1="551.6" x2="134.29" y2="553.8000000000001" stroke="#000" stroke-width="0.8"/>
<line x1="144.17" y1="551.6" x2="144.17" y2="553.8000000000001" stroke="#000" stroke-width="0.8"/>
<line x1="154.06" y1="551.6" x2="154.06" y2="553.8000000000001" stroke="#000" stroke-width="0.8"/>
<line x1="163.95" y1="551.6" x2="163.95" y2="555.2" stroke="#000" stroke-width="1"/>
<text transform="translate(163.95,564.50) scale(0.4850,0.5)" font-size="19.80" text-anchor="middle" fill="#231f20" stroke="#231f20" stroke-width="0.24" >36</text>
<line x1="173.84" y1="551.6" x2="173.84" y2="553.8000000000001" stroke="#000" stroke-width="0.8"/>
<line x1="183.72" y1="551.6" x2="183.72" y2="553.8000000000001" stroke="#000" stroke-width="0.8"/>
<line x1="193.61" y1="551.6" x2="193.61" y2="553.8000000000001" stroke="#000" stroke-width="0.8"/>
<line x1="203.50" y1="551.6" x2="203.50" y2="555.2" stroke="#000" stroke-width="1"/>
<text transform="translate(203.50,564.50) scale(0.4850,0.5)" font-size="19.80" text-anchor="middle" fill="#231f20" stroke="#231f20" stroke-width="0.24" >48</text>
<line x1="213.39" y1="551.6" x2="213.39" y2="553.8000000000001" stroke="#000" stroke-width="0.8"/>
<line x1="223.27" y1="551.6" x2="223.27" y2="553.8000000000001" stroke="#000" stroke-width="0.8"/>
<line x1="233.16" y1="551.6" x2="233.16" y2="553.8000000000001" stroke="#000" stroke-width="0.8"/>
<line x1="243.05" y1="551.6" x2="243.05" y2="555.2" stroke="#000" stroke-width="1"/>
<text transform="translate(243.05,564.50) scale(0.4850,0.5)" font-size="19.80" text-anchor="middle" fill="#231f20" stroke="#231f20" stroke-width="0.24" >60</text>
<text transform="translate(12.4,477.4) rotate(-90) scale(0.5)" x="0" y="0" font-size="20.00" text-anchor="middle" fill="#231f20" stroke="#231f20" stroke-width="0.64" textLength="137.20" lengthAdjust="spacingAndGlyphs">Cumulative incidence</text>
<text transform="translate(150.3,574.8) scale(0.5)" font-size="20.20" text-anchor="middle" fill="#231f20" stroke="#231f20" stroke-width="0.64" textLength="148.80" lengthAdjust="spacingAndGlyphs">Months from diagnosis</text>
<path d="M45.4,546.9H51.4V543.3H55.5V539.2H56.5V532.5H57.5V525.8H59.2V523H60.8V520.4H62.2V515.7H64.2V513H64.9V509.3H70.3V501.5H89.4V497.5H99.3V493.2H131.3V488.7H252" fill="none" stroke="#45568a" stroke-width="1.1" stroke-linejoin="miter"/>
<path d="M45.4,546.9H50.7V542.6H52.8V537.9H55.5V533.2H56.8V525.8H58.2V522.4H59.5V519H62.9V517.7H64.9V513.9H69.6V510.3H70.5V499.9H75V494.5H236.3" fill="none" stroke="#4cb64a" stroke-width="1.1" stroke-linejoin="miter"/>
<line x1="44.5" y1="430" x2="54.5" y2="430" stroke="#45568a" stroke-width="1.1"/>
<text transform="translate(58.80,433.00) scale(0.5000,0.5)" font-size="17.00" text-anchor="start" fill="#231f20" stroke="#231f20" stroke-width="0.24" >US</text>
<line x1="44.5" y1="440.8" x2="54.5" y2="440.8" stroke="#4cb64a" stroke-width="1.1"/>
<text transform="translate(58.80,443.80) scale(0.5000,0.5)" font-size="17.00" text-anchor="start" fill="#231f20" stroke="#231f20" stroke-width="0.24" >UK</text>
<text transform="translate(210.2,433.1) scale(0.5)" font-size="17.20" fill="#231f20" stroke="#231f20" stroke-width="0.20" textLength="64.60" lengthAdjust="spacingAndGlyphs"><tspan font-style="italic">P</tspan> = 0.85</text>
<text transform="translate(158.10,482.00) scale(0.5000,0.5)" font-size="18.40" text-anchor="start" fill="#45568a" textLength="37.20" lengthAdjust="spacingAndGlyphs" stroke="#45568a" stroke-width="0.08" >11%</text>
<text transform="translate(158.10,505.80) scale(0.5000,0.5)" font-size="18.40" text-anchor="start" fill="#4cb64a" textLength="37.20" lengthAdjust="spacingAndGlyphs" stroke="#4cb64a" stroke-width="0.08" >10%</text>
<text transform="translate(32.00,580.00) scale(0.5000,0.5)" font-size="16.60" text-anchor="start" fill="#231f20" font-style="italic" stroke="#231f20" stroke-width="0.24" >N</text>
<rect x="32" y="583.6999999999999" width="5.4" height="5.2" fill="#2d3f6f"/>
<text transform="translate(48.40,589.40) scale(0.5150,0.5)" font-size="16.60" text-anchor="middle" fill="#231f20" stroke="#231f20" stroke-width="0.24" >140</text>
<text transform="translate(86.30,589.40) scale(0.5150,0.5)" font-size="16.60" text-anchor="middle" fill="#231f20" stroke="#231f20" stroke-width="0.24" >84</text>
<text transform="translate(126.10,589.40) scale(0.5150,0.5)" font-size="16.60" text-anchor="middle" fill="#231f20" stroke="#231f20" stroke-width="0.24" >67</text>
<text transform="translate(165.50,589.40) scale(0.5150,0.5)" font-size="16.60" text-anchor="middle" fill="#231f20" stroke="#231f20" stroke-width="0.24" >54</text>
<text transform="translate(205.30,589.40) scale(0.5150,0.5)" font-size="16.60" text-anchor="middle" fill="#231f20" stroke="#231f20" stroke-width="0.24" >44</text>
<text transform="translate(244.70,589.40) scale(0.5150,0.5)" font-size="16.60" text-anchor="middle" fill="#231f20" stroke="#231f20" stroke-width="0.24" >28</text>
<rect x="32" y="594.9" width="5.4" height="5.2" fill="#3ca83a"/>
<text transform="translate(48.40,600.60) scale(0.5150,0.5)" font-size="16.60" text-anchor="middle" fill="#231f20" stroke="#231f20" stroke-width="0.24" >109</text>
<text transform="translate(86.30,600.60) scale(0.5150,0.5)" font-size="16.60" text-anchor="middle" fill="#231f20" stroke="#231f20" stroke-width="0.24" >63</text>
<text transform="translate(126.10,600.60) scale(0.5150,0.5)" font-size="16.60" text-anchor="middle" fill="#231f20" stroke="#231f20" stroke-width="0.24" >54</text>
<text transform="translate(165.50,600.60) scale(0.5150,0.5)" font-size="16.60" text-anchor="middle" fill="#231f20" stroke="#231f20" stroke-width="0.24" >53</text>
<text transform="translate(205.30,600.60) scale(0.5150,0.5)" font-size="16.60" text-anchor="middle" fill="#231f20" stroke="#231f20" stroke-width="0.24" >43</text>
<text transform="translate(244.70,600.60) scale(0.5150,0.5)" font-size="16.60" text-anchor="middle" fill="#231f20" stroke="#231f20" stroke-width="0.24" >35</text>
<text transform="translate(265.60,410.80) scale(0.5000,0.5)" font-size="26.80" text-anchor="start" fill="#231f20" font-weight="bold" stroke="#231f20" stroke-width="0.70">F</text>
<line x1="301" y1="413.2" x2="301" y2="545.9" stroke="#000" stroke-width="1.5"/>
<line x1="298.2" y1="540.6" x2="301" y2="540.6" stroke="#000" stroke-width="1"/>
<text transform="translate(297.00,543.80) scale(0.4850,0.5)" font-size="19.80" text-anchor="end" fill="#231f20" stroke="#231f20" stroke-width="0.24" >0</text>
<line x1="298.2" y1="515.98" x2="301" y2="515.98" stroke="#000" stroke-width="1"/>
<text transform="translate(283.40,518.88) scale(0.5000,0.5)" font-size="19.80" text-anchor="start" fill="#231f20" textLength="27.20" lengthAdjust="spacingAndGlyphs" stroke="#231f20" stroke-width="0.24" >5%</text>
<line x1="298.2" y1="491.36" x2="301" y2="491.36" stroke="#000" stroke-width="1"/>
<text transform="translate(278.20,494.26) scale(0.5000,0.5)" font-size="19.80" text-anchor="start" fill="#231f20" textLength="37.60" lengthAdjust="spacingAndGlyphs" stroke="#231f20" stroke-width="0.24" >10%</text>
<line x1="298.2" y1="466.74" x2="301" y2="466.74" stroke="#000" stroke-width="1"/>
<text transform="translate(278.20,469.64) scale(0.5000,0.5)" font-size="19.80" text-anchor="start" fill="#231f20" textLength="37.60" lengthAdjust="spacingAndGlyphs" stroke="#231f20" stroke-width="0.24" >15%</text>
<line x1="298.2" y1="442.12" x2="301" y2="442.12" stroke="#000" stroke-width="1"/>
<text transform="translate(278.20,445.02) scale(0.5000,0.5)" font-size="19.80" text-anchor="start" fill="#231f20" textLength="37.60" lengthAdjust="spacingAndGlyphs" stroke="#231f20" stroke-width="0.24" >20%</text>
<line x1="298.2" y1="417.5" x2="301" y2="417.5" stroke="#000" stroke-width="1"/>
<text transform="translate(278.20,420.40) scale(0.5000,0.5)" font-size="19.80" text-anchor="start" fill="#231f20" textLength="37.60" lengthAdjust="spacingAndGlyphs" stroke="#231f20" stroke-width="0.24" >25%</text>
<line x1="300.25" y1="545.2" x2="511.1" y2="545.2" stroke="#000" stroke-width="1.5"/>
<line x1="306.20" y1="545.2" x2="306.20" y2="548.8000000000001" stroke="#000" stroke-width="1"/>
<text transform="translate(306.20,558.10) scale(0.4850,0.5)" font-size="19.80" text-anchor="middle" fill="#231f20" stroke="#231f20" stroke-width="0.24" >0</text>
<line x1="316.08" y1="545.2" x2="316.08" y2="547.4000000000001" stroke="#000" stroke-width="0.8"/>
<line x1="325.97" y1="545.2" x2="325.97" y2="547.4000000000001" stroke="#000" stroke-width="0.8"/>
<line x1="335.86" y1="545.2" x2="335.86" y2="547.4000000000001" stroke="#000" stroke-width="0.8"/>
<line x1="345.74" y1="545.2" x2="345.74" y2="548.8000000000001" stroke="#000" stroke-width="1"/>
<text transform="translate(345.74,558.10) scale(0.4850,0.5)" font-size="19.80" text-anchor="middle" fill="#231f20" stroke="#231f20" stroke-width="0.24" >12</text>
<line x1="355.62" y1="545.2" x2="355.62" y2="547.4000000000001" stroke="#000" stroke-width="0.8"/>
<line x1="365.51" y1="545.2" x2="365.51" y2="547.4000000000001" stroke="#000" stroke-width="0.8"/>
<line x1="375.39" y1="545.2" x2="375.39" y2="547.4000000000001" stroke="#000" stroke-width="0.8"/>
<line x1="385.28" y1="545.2" x2="385.28" y2="548.8000000000001" stroke="#000" stroke-width="1"/>
<text transform="translate(385.28,558.10) scale(0.4850,0.5)" font-size="19.80" text-anchor="middle" fill="#231f20" stroke="#231f20" stroke-width="0.24" >24</text>
<line x1="395.16" y1="545.2" x2="395.16" y2="547.4000000000001" stroke="#000" stroke-width="0.8"/>
<line x1="405.05" y1="545.2" x2="405.05" y2="547.4000000000001" stroke="#000" stroke-width="0.8"/>
<line x1="414.94" y1="545.2" x2="414.94" y2="547.4000000000001" stroke="#000" stroke-width="0.8"/>
<line x1="424.82" y1="545.2" x2="424.82" y2="548.8000000000001" stroke="#000" stroke-width="1"/>
<text transform="translate(424.82,558.10) scale(0.4850,0.5)" font-size="19.80" text-anchor="middle" fill="#231f20" stroke="#231f20" stroke-width="0.24" >36</text>
<line x1="434.70" y1="545.2" x2="434.70" y2="547.4000000000001" stroke="#000" stroke-width="0.8"/>
<line x1="444.59" y1="545.2" x2="444.59" y2="547.4000000000001" stroke="#000" stroke-width="0.8"/>
<line x1="454.48" y1="545.2" x2="454.48" y2="547.4000000000001" stroke="#000" stroke-width="0.8"/>
<line x1="464.36" y1="545.2" x2="464.36" y2="548.8000000000001" stroke="#000" stroke-width="1"/>
<text transform="translate(464.36,558.10) scale(0.4850,0.5)" font-size="19.80" text-anchor="middle" fill="#231f20" stroke="#231f20" stroke-width="0.24" >48</text>
<line x1="474.25" y1="545.2" x2="474.25" y2="547.4000000000001" stroke="#000" stroke-width="0.8"/>
<line x1="484.13" y1="545.2" x2="484.13" y2="547.4000000000001" stroke="#000" stroke-width="0.8"/>
<line x1="494.01" y1="545.2" x2="494.01" y2="547.4000000000001" stroke="#000" stroke-width="0.8"/>
<line x1="503.90" y1="545.2" x2="503.90" y2="548.8000000000001" stroke="#000" stroke-width="1"/>
<text transform="translate(503.90,558.10) scale(0.4850,0.5)" font-size="19.80" text-anchor="middle" fill="#231f20" stroke="#231f20" stroke-width="0.24" >60</text>
<text transform="translate(270.8,473.8) rotate(-90) scale(0.5)" x="0" y="0" font-size="20.00" text-anchor="middle" fill="#231f20" stroke="#231f20" stroke-width="0.64" textLength="139.00" lengthAdjust="spacingAndGlyphs">Cumulative incidence</text>
<text transform="translate(411,568.2) scale(0.5)" font-size="20.20" text-anchor="middle" fill="#231f20" stroke="#231f20" stroke-width="0.64" textLength="150.00" lengthAdjust="spacingAndGlyphs">Months from diagnosis</text>
<path d="M305.9,540.6H311.8V533.1H315.5V525.7H316.5V517.6H317.7V509.9H319.6V501.8H323.3V494H324.4V486.3H331.3V477.7H350.2V469.6H391.6V457.5H509" fill="none" stroke="#45568a" stroke-width="1.1" stroke-linejoin="miter"/>
<path d="M305.9,540.6H311.1V536.8H314V533.8H316.2V528H317.7V525H320.7V522H323.6V520.5H325.8V517.6H330.6V514.6H331.2V503.9H335.4V500.3H512" fill="none" stroke="#c93c3f" stroke-width="1.1" stroke-linejoin="miter"/>
<path d="M305.9,540.6H315.5V526.2H322.2V511.2H359.5V495.4H490.3" fill="none" stroke="#4cb64a" stroke-width="1.1" stroke-linejoin="miter"/>
<line x1="308" y1="417.2" x2="320.5" y2="417.2" stroke="#c93c3f" stroke-width="1.1"/>
<text transform="translate(324.50,420.20) scale(0.5000,0.5)" font-size="17.00" text-anchor="start" fill="#231f20" stroke="#231f20" stroke-width="0.24" >CODOX-M±IVAC</text>
<line x1="308" y1="428.7" x2="320.5" y2="428.7" stroke="#45568a" stroke-width="1.1"/>
<text transform="translate(324.50,431.70) scale(0.5000,0.5)" font-size="17.00" text-anchor="start" fill="#231f20" stroke="#231f20" stroke-width="0.24" >DA-EPOCH</text>
<line x1="308" y1="440.3" x2="320.5" y2="440.3" stroke="#4cb64a" stroke-width="1.1"/>
<text transform="translate(324.50,443.30) scale(0.5000,0.5)" font-size="17.00" text-anchor="start" fill="#231f20" stroke="#231f20" stroke-width="0.24" >hCVAD±MA</text>
<text transform="translate(453,427.1) scale(0.5)" font-size="17.20" fill="#231f20" stroke="#231f20" stroke-width="0.20" textLength="64.80" lengthAdjust="spacingAndGlyphs"><tspan font-style="italic">P</tspan> = 0.03</text>
<text transform="translate(426.20,438.30) scale(0.5000,0.5)" font-size="16.60" text-anchor="start" fill="#231f20" textLength="166.20" lengthAdjust="spacingAndGlyphs" stroke="#231f20" stroke-width="0.24" >(DA-EPOCH vs others)</text>
<text transform="translate(416.90,454.60) scale(0.5000,0.5)" font-size="18.40" text-anchor="start" fill="#45568a" textLength="37.20" lengthAdjust="spacingAndGlyphs" stroke="#45568a" stroke-width="0.08" >17%</text>
<text transform="translate(418.60,491.40) scale(0.5000,0.5)" font-size="18.40" text-anchor="start" fill="#4cb64a" textLength="26.40" lengthAdjust="spacingAndGlyphs" stroke="#4cb64a" stroke-width="0.08" >9%</text>
<text transform="translate(418.60,511.10) scale(0.5000,0.5)" font-size="18.40" text-anchor="start" fill="#c93c3f" textLength="26.40" lengthAdjust="spacingAndGlyphs" stroke="#c93c3f" stroke-width="0.08" >8%</text>
<text transform="translate(292.50,573.50) scale(0.5000,0.5)" font-size="16.60" text-anchor="start" fill="#231f20" font-style="italic" stroke="#231f20" stroke-width="0.24" >N</text>
<rect x="292.5" y="576.4" width="5.4" height="5.2" fill="#c22a2f"/>
<text transform="translate(308.40,582.10) scale(0.5150,0.5)" font-size="16.60" text-anchor="middle" fill="#231f20" stroke="#231f20" stroke-width="0.24" >150</text>
<text transform="translate(346.80,582.10) scale(0.5150,0.5)" font-size="16.60" text-anchor="middle" fill="#231f20" stroke="#231f20" stroke-width="0.24" >91</text>
<text transform="translate(386.80,582.10) scale(0.5150,0.5)" font-size="16.60" text-anchor="middle" fill="#231f20" stroke="#231f20" stroke-width="0.24" >78</text>
<text transform="translate(426.00,582.10) scale(0.5150,0.5)" font-size="16.60" text-anchor="middle" fill="#231f20" stroke="#231f20" stroke-width="0.24" >75</text>
<text transform="translate(465.80,582.10) scale(0.5150,0.5)" font-size="16.60" text-anchor="middle" fill="#231f20" stroke="#231f20" stroke-width="0.24" >62</text>
<text transform="translate(504.80,582.10) scale(0.5150,0.5)" font-size="16.60" text-anchor="middle" fill="#231f20" stroke="#231f20" stroke-width="0.24" >48</text>
<rect x="292.5" y="586.4" width="5.4" height="5.2" fill="#2d3f6f"/>
<text transform="translate(308.40,592.10) scale(0.5150,0.5)" font-size="16.60" text-anchor="middle" fill="#231f20" stroke="#231f20" stroke-width="0.24" >63</text>
<text transform="translate(346.80,592.10) scale(0.5150,0.5)" font-size="16.60" text-anchor="middle" fill="#231f20" stroke="#231f20" stroke-width="0.24" >33</text>
<text transform="translate(386.80,592.10) scale(0.5150,0.5)" font-size="16.60" text-anchor="middle" fill="#231f20" stroke="#231f20" stroke-width="0.24" >24</text>
<text transform="translate(426.00,592.10) scale(0.5150,0.5)" font-size="16.60" text-anchor="middle" fill="#231f20" stroke="#231f20" stroke-width="0.24" >17</text>
<text transform="translate(465.80,592.10) scale(0.5150,0.5)" font-size="16.60" text-anchor="middle" fill="#231f20" stroke="#231f20" stroke-width="0.24" >14</text>
<text transform="translate(504.80,592.10) scale(0.5150,0.5)" font-size="16.60" text-anchor="middle" fill="#231f20" stroke="#231f20" stroke-width="0.24" >8</text>
<rect x="292.5" y="596.9" width="5.4" height="5.2" fill="#3ca83a"/>
<text transform="translate(308.40,602.60) scale(0.5150,0.5)" font-size="16.60" text-anchor="middle" fill="#231f20" stroke="#231f20" stroke-width="0.24" >33</text>
<text transform="translate(346.80,602.60) scale(0.5150,0.5)" font-size="16.60" text-anchor="middle" fill="#231f20" stroke="#231f20" stroke-width="0.24" >22</text>
<text transform="translate(386.80,602.60) scale(0.5150,0.5)" font-size="16.60" text-anchor="middle" fill="#231f20" stroke="#231f20" stroke-width="0.24" >18</text>
<text transform="translate(426.00,602.60) scale(0.5150,0.5)" font-size="16.60" text-anchor="middle" fill="#231f20" stroke="#231f20" stroke-width="0.24" >14</text>
<text transform="translate(465.80,602.60) scale(0.5150,0.5)" font-size="16.60" text-anchor="middle" fill="#231f20" stroke="#231f20" stroke-width="0.24" >10</text>
<text transform="translate(504.80,602.60) scale(0.5150,0.5)" font-size="16.60" text-anchor="middle" fill="#231f20" stroke="#231f20" stroke-width="0.24" >7</text>
<rect x="0.5" y="0.5" width="519" height="609" fill="none" stroke="#1a1a1a" stroke-width="1"/>
</svg></body></html>
